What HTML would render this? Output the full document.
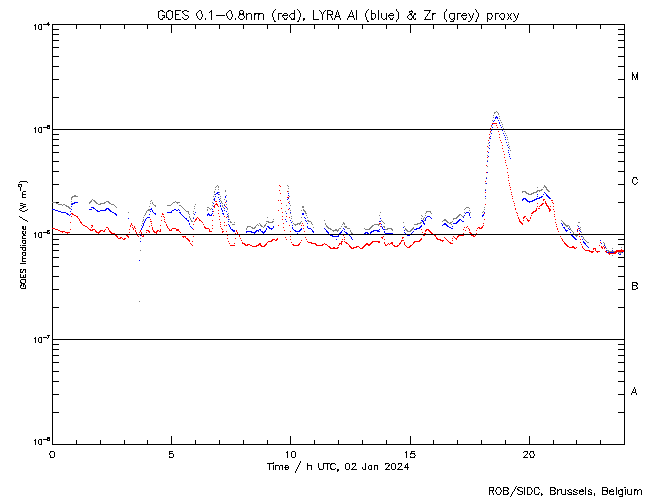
<!DOCTYPE html>
<html lang="en">
<head>
<meta charset="utf-8">
<title>GOES 0.1-0.8nm (red), LYRA Al (blue) &amp; Zr (grey) proxy</title>
<style>
html,body{margin:0;padding:0;background:#fff;}
body{width:650px;height:500px;overflow:hidden;font-family:"Liberation Sans",sans-serif;}
svg{display:block;shape-rendering:crispEdges;}
svg text{font-family:"Liberation Sans",sans-serif;fill:transparent;stroke:none;}
</style>
</head>
<body>
<svg width="650" height="500" viewBox="0 0 650 500" role="img" aria-label="GOES X-ray flux and LYRA proxies, 02 Jan 2024">
<rect width="650" height="500" fill="#ffffff"/>
<g id="series">
<path class="black" fill="#000000" d="M275 9h1v1h-1zM297 9h1v1h-1zM368 9h1v1h-1zM396 9h1v1h-1zM446 9h1v1h-1zM475 9h1v1h-1zM160 10h3v1h-3zM168 10h3v1h-3zM175 10h6v1h-6zM184 10h3v1h-3zM199 10h2v1h-2zM211 10h1v1h-1zM229 10h2v1h-2zM240 10h3v1h-3zM274 10h1v1h-1zM294 10h1v1h-1zM298 10h1v1h-1zM313 10h1v1h-1zM319 10h1v1h-1zM325 10h1v1h-1zM327 10h4v1h-4zM337 10h1v1h-1zM351 10h1v1h-1zM356 10h1v1h-1zM367 10h1v1h-1zM371 10h1v1h-1zM378 10h1v1h-1zM396 10h1v1h-1zM411 10h1v1h-1zM424 10h7v1h-7zM446 10h1v1h-1zM476 10h1v1h-1zM158 11h2v1h-2zM162 11h2v1h-2zM167 11h2v1h-2zM171 11h2v1h-2zM175 11h1v1h-1zM182 11h2v1h-2zM187 11h2v1h-2zM198 11h1v1h-1zM201 11h1v1h-1zM210 11h2v1h-2zM228 11h1v1h-1zM231 11h1v1h-1zM239 11h1v1h-1zM243 11h1v1h-1zM273 11h1v1h-1zM294 11h1v1h-1zM299 11h1v1h-1zM313 11h1v1h-1zM320 11h1v1h-1zM324 11h1v1h-1zM327 11h1v1h-1zM331 11h2v1h-2zM337 11h1v1h-1zM351 11h1v1h-1zM356 11h1v1h-1zM366 11h1v1h-1zM371 11h1v1h-1zM378 11h1v1h-1zM397 11h1v1h-1zM409 11h4v1h-4zM429 11h1v1h-1zM445 11h1v1h-1zM476 11h1v1h-1zM158 12h1v1h-1zM164 12h1v1h-1zM166 12h1v1h-1zM172 12h1v1h-1zM175 12h1v1h-1zM182 12h1v1h-1zM197 12h1v1h-1zM201 12h1v1h-1zM209 12h1v1h-1zM211 12h1v1h-1zM227 12h1v1h-1zM231 12h1v1h-1zM239 12h1v1h-1zM243 12h1v1h-1zM273 12h1v1h-1zM294 12h1v1h-1zM299 12h1v1h-1zM313 12h1v1h-1zM321 12h1v1h-1zM323 12h1v1h-1zM327 12h1v1h-1zM332 12h1v1h-1zM336 12h1v1h-1zM338 12h1v1h-1zM350 12h1v1h-1zM352 12h1v1h-1zM356 12h1v1h-1zM366 12h1v1h-1zM371 12h1v1h-1zM378 12h1v1h-1zM398 12h1v1h-1zM409 12h1v1h-1zM412 12h1v1h-1zM429 12h1v1h-1zM444 12h1v1h-1zM477 12h1v1h-1zM158 13h1v1h-1zM166 13h1v1h-1zM172 13h1v1h-1zM175 13h1v1h-1zM183 13h1v1h-1zM196 13h1v1h-1zM201 13h1v1h-1zM211 13h1v1h-1zM226 13h1v1h-1zM231 13h1v1h-1zM239 13h2v1h-2zM242 13h2v1h-2zM246 13h1v1h-1zM248 13h3v1h-3zM254 13h9v1h-9zM272 13h1v1h-1zM278 13h4v1h-4zM284 13h3v1h-3zM291 13h4v1h-4zM300 13h1v1h-1zM313 13h1v1h-1zM321 13h1v1h-1zM323 13h1v1h-1zM327 13h1v1h-1zM332 13h1v1h-1zM336 13h1v1h-1zM338 13h1v1h-1zM350 13h1v1h-1zM352 13h1v1h-1zM356 13h1v1h-1zM365 13h1v1h-1zM371 13h4v1h-4zM378 13h1v1h-1zM381 13h1v1h-1zM386 13h1v1h-1zM390 13h3v1h-3zM398 13h1v1h-1zM410 13h2v1h-2zM414 13h2v1h-2zM428 13h1v1h-1zM432 13h4v1h-4zM444 13h1v1h-1zM450 13h5v1h-5zM457 13h4v1h-4zM463 13h3v1h-3zM468 13h1v1h-1zM473 13h1v1h-1zM478 13h1v1h-1zM487 13h5v1h-5zM495 13h4v1h-4zM501 13h3v1h-3zM507 13h1v1h-1zM511 13h1v1h-1zM513 13h1v1h-1zM518 13h1v1h-1zM158 14h1v1h-1zM166 14h1v1h-1zM172 14h1v1h-1zM175 14h4v1h-4zM184 14h1v1h-1zM196 14h1v1h-1zM202 14h1v1h-1zM211 14h1v1h-1zM226 14h1v1h-1zM232 14h1v1h-1zM239 14h5v1h-5zM246 14h2v1h-2zM251 14h1v1h-1zM254 14h2v1h-2zM258 14h2v1h-2zM263 14h1v1h-1zM272 14h1v1h-1zM278 14h1v1h-1zM283 14h1v1h-1zM287 14h1v1h-1zM290 14h1v1h-1zM294 14h1v1h-1zM300 14h1v1h-1zM313 14h1v1h-1zM322 14h1v1h-1zM327 14h6v1h-6zM336 14h1v1h-1zM338 14h1v1h-1zM349 14h1v1h-1zM352 14h1v1h-1zM356 14h1v1h-1zM365 14h1v1h-1zM371 14h1v1h-1zM375 14h1v1h-1zM378 14h1v1h-1zM381 14h1v1h-1zM386 14h1v1h-1zM389 14h1v1h-1zM393 14h1v1h-1zM398 14h1v1h-1zM409 14h3v1h-3zM414 14h2v1h-2zM427 14h1v1h-1zM432 14h2v1h-2zM444 14h1v1h-1zM449 14h1v1h-1zM454 14h1v1h-1zM457 14h1v1h-1zM462 14h1v1h-1zM466 14h1v1h-1zM469 14h1v1h-1zM473 14h1v1h-1zM478 14h1v1h-1zM487 14h1v1h-1zM491 14h1v1h-1zM495 14h1v1h-1zM500 14h1v1h-1zM504 14h1v1h-1zM508 14h1v1h-1zM510 14h1v1h-1zM514 14h1v1h-1zM518 14h1v1h-1zM158 15h1v1h-1zM162 15h3v1h-3zM166 15h1v1h-1zM172 15h1v1h-1zM175 15h1v1h-1zM185 15h3v1h-3zM196 15h1v1h-1zM202 15h1v1h-1zM211 15h1v1h-1zM216 15h9v1h-9zM226 15h1v1h-1zM232 15h1v1h-1zM239 15h1v1h-1zM243 15h1v1h-1zM246 15h1v1h-1zM251 15h1v1h-1zM254 15h1v1h-1zM258 15h1v1h-1zM263 15h1v1h-1zM272 15h1v1h-1zM278 15h1v1h-1zM282 15h6v1h-6zM289 15h1v1h-1zM294 15h1v1h-1zM300 15h1v1h-1zM313 15h1v1h-1zM322 15h1v1h-1zM327 15h1v1h-1zM330 15h1v1h-1zM335 15h1v1h-1zM339 15h1v1h-1zM349 15h1v1h-1zM353 15h1v1h-1zM356 15h1v1h-1zM365 15h1v1h-1zM371 15h1v1h-1zM375 15h1v1h-1zM378 15h1v1h-1zM381 15h1v1h-1zM386 15h1v1h-1zM388 15h6v1h-6zM398 15h1v1h-1zM408 15h1v1h-1zM411 15h1v1h-1zM413 15h1v1h-1zM427 15h1v1h-1zM432 15h1v1h-1zM444 15h1v1h-1zM449 15h1v1h-1zM454 15h1v1h-1zM457 15h1v1h-1zM461 15h6v1h-6zM469 15h1v1h-1zM472 15h1v1h-1zM478 15h1v1h-1zM487 15h1v1h-1zM492 15h1v1h-1zM495 15h1v1h-1zM499 15h1v1h-1zM504 15h1v1h-1zM508 15h1v1h-1zM510 15h1v1h-1zM514 15h1v1h-1zM517 15h1v1h-1zM158 16h1v1h-1zM164 16h1v1h-1zM166 16h1v1h-1zM172 16h1v1h-1zM175 16h1v1h-1zM188 16h1v1h-1zM197 16h1v1h-1zM202 16h1v1h-1zM211 16h1v1h-1zM227 16h1v1h-1zM232 16h1v1h-1zM238 16h1v1h-1zM244 16h1v1h-1zM246 16h1v1h-1zM251 16h1v1h-1zM254 16h1v1h-1zM258 16h1v1h-1zM263 16h1v1h-1zM272 16h1v1h-1zM278 16h1v1h-1zM282 16h1v1h-1zM289 16h1v1h-1zM294 16h1v1h-1zM300 16h1v1h-1zM313 16h1v1h-1zM322 16h1v1h-1zM327 16h1v1h-1zM331 16h1v1h-1zM335 16h5v1h-5zM348 16h6v1h-6zM356 16h1v1h-1zM365 16h1v1h-1zM371 16h1v1h-1zM375 16h1v1h-1zM378 16h1v1h-1zM381 16h1v1h-1zM386 16h1v1h-1zM388 16h1v1h-1zM398 16h1v1h-1zM407 16h1v1h-1zM412 16h2v1h-2zM426 16h1v1h-1zM432 16h1v1h-1zM444 16h1v1h-1zM449 16h1v1h-1zM454 16h1v1h-1zM457 16h1v1h-1zM461 16h1v1h-1zM470 16h1v1h-1zM472 16h1v1h-1zM478 16h1v1h-1zM487 16h1v1h-1zM492 16h1v1h-1zM495 16h1v1h-1zM499 16h1v1h-1zM504 16h1v1h-1zM509 16h1v1h-1zM515 16h1v1h-1zM517 16h1v1h-1zM158 17h1v1h-1zM163 17h2v1h-2zM166 17h2v1h-2zM172 17h1v1h-1zM175 17h1v1h-1zM182 17h1v1h-1zM188 17h1v1h-1zM197 17h1v1h-1zM201 17h1v1h-1zM211 17h1v1h-1zM227 17h1v1h-1zM231 17h1v1h-1zM238 17h1v1h-1zM244 17h1v1h-1zM246 17h1v1h-1zM251 17h1v1h-1zM254 17h1v1h-1zM258 17h1v1h-1zM263 17h1v1h-1zM273 17h1v1h-1zM278 17h1v1h-1zM283 17h1v1h-1zM287 17h1v1h-1zM290 17h1v1h-1zM294 17h1v1h-1zM299 17h1v1h-1zM313 17h1v1h-1zM322 17h1v1h-1zM327 17h1v1h-1zM331 17h1v1h-1zM335 17h1v1h-1zM339 17h1v1h-1zM348 17h1v1h-1zM353 17h1v1h-1zM356 17h1v1h-1zM366 17h1v1h-1zM371 17h1v1h-1zM375 17h1v1h-1zM378 17h1v1h-1zM381 17h1v1h-1zM386 17h1v1h-1zM389 17h1v1h-1zM393 17h1v1h-1zM398 17h1v1h-1zM407 17h1v1h-1zM412 17h2v1h-2zM425 17h1v1h-1zM432 17h1v1h-1zM444 17h1v1h-1zM449 17h1v1h-1zM454 17h1v1h-1zM457 17h1v1h-1zM462 17h1v1h-1zM466 17h1v1h-1zM470 17h1v1h-1zM472 17h1v1h-1zM477 17h1v1h-1zM487 17h1v1h-1zM491 17h1v1h-1zM495 17h1v1h-1zM500 17h1v1h-1zM504 17h1v1h-1zM508 17h1v1h-1zM510 17h1v1h-1zM515 17h1v1h-1zM517 17h1v1h-1zM159 18h1v1h-1zM162 18h1v1h-1zM168 18h1v1h-1zM171 18h1v1h-1zM175 18h1v1h-1zM183 18h1v1h-1zM187 18h1v1h-1zM198 18h1v1h-1zM201 18h1v1h-1zM205 18h1v1h-1zM211 18h1v1h-1zM228 18h1v1h-1zM231 18h1v1h-1zM235 18h1v1h-1zM239 18h1v1h-1zM243 18h1v1h-1zM246 18h1v1h-1zM251 18h1v1h-1zM254 18h1v1h-1zM258 18h1v1h-1zM263 18h1v1h-1zM273 18h1v1h-1zM278 18h1v1h-1zM284 18h1v1h-1zM286 18h1v1h-1zM291 18h1v1h-1zM293 18h2v1h-2zM299 18h1v1h-1zM303 18h2v1h-2zM313 18h1v1h-1zM322 18h1v1h-1zM327 18h1v1h-1zM332 18h1v1h-1zM334 18h1v1h-1zM340 18h1v1h-1zM347 18h1v1h-1zM354 18h1v1h-1zM356 18h1v1h-1zM366 18h1v1h-1zM371 18h2v1h-2zM374 18h1v1h-1zM378 18h1v1h-1zM382 18h1v1h-1zM385 18h2v1h-2zM390 18h1v1h-1zM392 18h1v1h-1zM398 18h1v1h-1zM408 18h1v1h-1zM411 18h1v1h-1zM413 18h1v1h-1zM415 18h1v1h-1zM425 18h1v1h-1zM432 18h1v1h-1zM444 18h1v1h-1zM450 18h1v1h-1zM453 18h2v1h-2zM457 18h1v1h-1zM463 18h1v1h-1zM465 18h1v1h-1zM471 18h1v1h-1zM477 18h1v1h-1zM487 18h2v1h-2zM491 18h1v1h-1zM495 18h1v1h-1zM501 18h1v1h-1zM503 18h1v1h-1zM508 18h1v1h-1zM510 18h1v1h-1zM516 18h1v1h-1zM160 19h3v1h-3zM168 19h3v1h-3zM175 19h6v1h-6zM184 19h3v1h-3zM199 19h2v1h-2zM205 19h1v1h-1zM211 19h1v1h-1zM229 19h2v1h-2zM235 19h1v1h-1zM240 19h3v1h-3zM246 19h1v1h-1zM251 19h1v1h-1zM254 19h1v1h-1zM258 19h1v1h-1zM263 19h1v1h-1zM273 19h1v1h-1zM278 19h1v1h-1zM284 19h3v1h-3zM291 19h4v1h-4zM299 19h1v1h-1zM303 19h2v1h-2zM313 19h6v1h-6zM322 19h1v1h-1zM327 19h1v1h-1zM332 19h1v1h-1zM334 19h1v1h-1zM340 19h1v1h-1zM347 19h1v1h-1zM354 19h1v1h-1zM356 19h1v1h-1zM366 19h1v1h-1zM371 19h3v1h-3zM378 19h1v1h-1zM383 19h2v1h-2zM386 19h1v1h-1zM390 19h3v1h-3zM397 19h1v1h-1zM409 19h3v1h-3zM414 19h2v1h-2zM424 19h7v1h-7zM432 19h1v1h-1zM445 19h1v1h-1zM451 19h2v1h-2zM454 19h1v1h-1zM457 19h1v1h-1zM463 19h3v1h-3zM471 19h1v1h-1zM476 19h1v1h-1zM487 19h1v1h-1zM489 19h2v1h-2zM495 19h1v1h-1zM501 19h3v1h-3zM507 19h1v1h-1zM511 19h1v1h-1zM516 19h1v1h-1zM274 20h1v1h-1zM298 20h1v1h-1zM303 20h1v1h-1zM367 20h1v1h-1zM396 20h1v1h-1zM446 20h1v1h-1zM453 20h1v1h-1zM470 20h1v1h-1zM476 20h1v1h-1zM487 20h1v1h-1zM515 20h1v1h-1zM274 21h2v1h-2zM297 21h2v1h-2zM367 21h2v1h-2zM396 21h1v1h-1zM446 21h1v1h-1zM450 21h4v1h-4zM468 21h2v1h-2zM475 21h2v1h-2zM487 21h1v1h-1zM513 21h2v1h-2zM48 22h1v1h-1zM47 23h2v1h-2zM35 24h1v1h-1zM39 24h3v1h-3zM43 24h7v1h-7zM52 24h573v1h-573zM34 25h2v1h-2zM38 25h1v1h-1zM41 25h1v1h-1zM48 25h1v1h-1zM52 25h1v1h-1zM76 25h1v1h-1zM100 25h1v1h-1zM124 25h1v1h-1zM147 25h1v1h-1zM171 25h1v1h-1zM195 25h1v1h-1zM219 25h1v1h-1zM243 25h1v1h-1zM267 25h1v1h-1zM290 25h1v1h-1zM314 25h1v1h-1zM338 25h1v1h-1zM362 25h1v1h-1zM386 25h1v1h-1zM410 25h1v1h-1zM433 25h1v1h-1zM457 25h1v1h-1zM481 25h1v1h-1zM505 25h1v1h-1zM529 25h1v1h-1zM553 25h1v1h-1zM576 25h1v1h-1zM600 25h1v1h-1zM624 25h1v1h-1zM35 26h1v1h-1zM38 26h1v1h-1zM41 26h1v1h-1zM52 26h1v1h-1zM76 26h1v1h-1zM100 26h1v1h-1zM124 26h1v1h-1zM147 26h1v1h-1zM171 26h1v1h-1zM195 26h1v1h-1zM219 26h1v1h-1zM243 26h1v1h-1zM267 26h1v1h-1zM290 26h1v1h-1zM314 26h1v1h-1zM338 26h1v1h-1zM362 26h1v1h-1zM386 26h1v1h-1zM410 26h1v1h-1zM433 26h1v1h-1zM457 26h1v1h-1zM481 26h1v1h-1zM505 26h1v1h-1zM529 26h1v1h-1zM553 26h1v1h-1zM576 26h1v1h-1zM600 26h1v1h-1zM624 26h1v1h-1zM35 27h1v1h-1zM38 27h1v1h-1zM41 27h1v1h-1zM52 27h1v1h-1zM76 27h1v1h-1zM100 27h1v1h-1zM124 27h1v1h-1zM147 27h1v1h-1zM171 27h1v1h-1zM195 27h1v1h-1zM219 27h1v1h-1zM243 27h1v1h-1zM267 27h1v1h-1zM290 27h1v1h-1zM314 27h1v1h-1zM338 27h1v1h-1zM362 27h1v1h-1zM386 27h1v1h-1zM410 27h1v1h-1zM433 27h1v1h-1zM457 27h1v1h-1zM481 27h1v1h-1zM505 27h1v1h-1zM529 27h1v1h-1zM553 27h1v1h-1zM576 27h1v1h-1zM600 27h1v1h-1zM624 27h1v1h-1zM35 28h1v1h-1zM38 28h1v1h-1zM41 28h1v1h-1zM52 28h1v1h-1zM76 28h1v1h-1zM100 28h1v1h-1zM124 28h1v1h-1zM147 28h1v1h-1zM171 28h1v1h-1zM195 28h1v1h-1zM219 28h1v1h-1zM243 28h1v1h-1zM267 28h1v1h-1zM290 28h1v1h-1zM314 28h1v1h-1zM338 28h1v1h-1zM362 28h1v1h-1zM386 28h1v1h-1zM410 28h1v1h-1zM433 28h1v1h-1zM457 28h1v1h-1zM481 28h1v1h-1zM505 28h1v1h-1zM529 28h1v1h-1zM553 28h1v1h-1zM576 28h1v1h-1zM600 28h1v1h-1zM624 28h1v1h-1zM35 29h1v1h-1zM39 29h3v1h-3zM52 29h7v1h-7zM171 29h1v1h-1zM290 29h1v1h-1zM410 29h1v1h-1zM529 29h1v1h-1zM618 29h7v1h-7zM52 30h1v1h-1zM171 30h1v1h-1zM290 30h1v1h-1zM410 30h1v1h-1zM529 30h1v1h-1zM624 30h1v1h-1zM52 31h1v1h-1zM171 31h1v1h-1zM290 31h1v1h-1zM410 31h1v1h-1zM529 31h1v1h-1zM624 31h1v1h-1zM52 32h1v1h-1zM171 32h1v1h-1zM290 32h1v1h-1zM410 32h1v1h-1zM529 32h1v1h-1zM624 32h1v1h-1zM52 33h1v1h-1zM624 33h1v1h-1zM52 34h7v1h-7zM618 34h7v1h-7zM52 35h1v1h-1zM624 35h1v1h-1zM52 36h1v1h-1zM624 36h1v1h-1zM52 37h1v1h-1zM624 37h1v1h-1zM52 38h1v1h-1zM624 38h1v1h-1zM52 39h1v1h-1zM624 39h1v1h-1zM52 40h7v1h-7zM618 40h7v1h-7zM52 41h1v1h-1zM624 41h1v1h-1zM52 42h1v1h-1zM624 42h1v1h-1zM52 43h1v1h-1zM624 43h1v1h-1zM52 44h1v1h-1zM624 44h1v1h-1zM52 45h1v1h-1zM624 45h1v1h-1zM52 46h1v1h-1zM624 46h1v1h-1zM52 47h7v1h-7zM618 47h7v1h-7zM52 48h1v1h-1zM624 48h1v1h-1zM52 49h1v1h-1zM624 49h1v1h-1zM52 50h1v1h-1zM624 50h1v1h-1zM52 51h1v1h-1zM624 51h1v1h-1zM52 52h1v1h-1zM624 52h1v1h-1zM52 53h1v1h-1zM624 53h1v1h-1zM52 54h1v1h-1zM624 54h1v1h-1zM52 55h1v1h-1zM624 55h1v1h-1zM52 56h7v1h-7zM618 56h7v1h-7zM52 57h1v1h-1zM624 57h1v1h-1zM52 58h1v1h-1zM624 58h1v1h-1zM52 59h1v1h-1zM624 59h1v1h-1zM52 60h1v1h-1zM624 60h1v1h-1zM52 61h1v1h-1zM624 61h1v1h-1zM52 62h1v1h-1zM624 62h1v1h-1zM52 63h1v1h-1zM624 63h1v1h-1zM52 64h1v1h-1zM624 64h1v1h-1zM52 65h1v1h-1zM624 65h1v1h-1zM52 66h7v1h-7zM618 66h7v1h-7zM52 67h1v1h-1zM624 67h1v1h-1zM52 68h1v1h-1zM624 68h1v1h-1zM52 69h1v1h-1zM624 69h1v1h-1zM52 70h1v1h-1zM624 70h1v1h-1zM52 71h1v1h-1zM624 71h1v1h-1zM52 72h1v1h-1zM624 72h1v1h-1zM632 72h1v1h-1zM637 72h1v1h-1zM52 73h1v1h-1zM624 73h1v1h-1zM632 73h1v1h-1zM637 73h1v1h-1zM52 74h1v1h-1zM624 74h1v1h-1zM632 74h2v1h-2zM636 74h2v1h-2zM52 75h1v1h-1zM624 75h1v1h-1zM632 75h2v1h-2zM636 75h2v1h-2zM52 76h1v1h-1zM624 76h1v1h-1zM632 76h1v1h-1zM634 76h1v1h-1zM636 76h2v1h-2zM52 77h1v1h-1zM624 77h1v1h-1zM632 77h1v1h-1zM634 77h1v1h-1zM636 77h2v1h-2zM52 78h1v1h-1zM624 78h1v1h-1zM632 78h1v1h-1zM635 78h1v1h-1zM637 78h1v1h-1zM52 79h7v1h-7zM618 79h7v1h-7zM632 79h1v1h-1zM635 79h1v1h-1zM637 79h1v1h-1zM52 80h1v1h-1zM624 80h1v1h-1zM52 81h1v1h-1zM624 81h1v1h-1zM52 82h1v1h-1zM624 82h1v1h-1zM52 83h1v1h-1zM624 83h1v1h-1zM52 84h1v1h-1zM624 84h1v1h-1zM52 85h1v1h-1zM624 85h1v1h-1zM52 86h1v1h-1zM624 86h1v1h-1zM52 87h1v1h-1zM624 87h1v1h-1zM52 88h1v1h-1zM624 88h1v1h-1zM52 89h1v1h-1zM624 89h1v1h-1zM52 90h1v1h-1zM624 90h1v1h-1zM52 91h1v1h-1zM624 91h1v1h-1zM52 92h1v1h-1zM624 92h1v1h-1zM52 93h1v1h-1zM624 93h1v1h-1zM52 94h1v1h-1zM624 94h1v1h-1zM52 95h1v1h-1zM624 95h1v1h-1zM52 96h1v1h-1zM624 96h1v1h-1zM52 97h7v1h-7zM618 97h7v1h-7zM52 98h1v1h-1zM624 98h1v1h-1zM52 99h1v1h-1zM624 99h1v1h-1zM52 100h1v1h-1zM624 100h1v1h-1zM52 101h1v1h-1zM624 101h1v1h-1zM52 102h1v1h-1zM624 102h1v1h-1zM52 103h1v1h-1zM624 103h1v1h-1zM52 104h1v1h-1zM624 104h1v1h-1zM52 105h1v1h-1zM624 105h1v1h-1zM52 106h1v1h-1zM624 106h1v1h-1zM52 107h1v1h-1zM624 107h1v1h-1zM52 108h1v1h-1zM624 108h1v1h-1zM52 109h1v1h-1zM624 109h1v1h-1zM52 110h1v1h-1zM624 110h1v1h-1zM52 111h1v1h-1zM624 111h1v1h-1zM52 112h1v1h-1zM624 112h1v1h-1zM52 113h1v1h-1zM624 113h1v1h-1zM52 114h1v1h-1zM624 114h1v1h-1zM52 115h1v1h-1zM624 115h1v1h-1zM52 116h1v1h-1zM624 116h1v1h-1zM52 117h1v1h-1zM624 117h1v1h-1zM52 118h1v1h-1zM624 118h1v1h-1zM52 119h1v1h-1zM624 119h1v1h-1zM52 120h1v1h-1zM624 120h1v1h-1zM52 121h1v1h-1zM624 121h1v1h-1zM52 122h1v1h-1zM624 122h1v1h-1zM52 123h1v1h-1zM624 123h1v1h-1zM52 124h1v1h-1zM624 124h1v1h-1zM47 125h3v1h-3zM52 125h1v1h-1zM624 125h1v1h-1zM47 126h3v1h-3zM52 126h1v1h-1zM624 126h1v1h-1zM35 127h1v1h-1zM39 127h3v1h-3zM43 127h5v1h-5zM49 127h1v1h-1zM52 127h1v1h-1zM624 127h1v1h-1zM34 128h2v1h-2zM38 128h1v1h-1zM41 128h1v1h-1zM47 128h3v1h-3zM52 128h1v1h-1zM624 128h1v1h-1zM35 129h1v1h-1zM38 129h1v1h-1zM41 129h1v1h-1zM52 129h1v1h-1zM624 129h1v1h-1zM35 130h1v1h-1zM38 130h1v1h-1zM41 130h1v1h-1zM52 130h1v1h-1zM624 130h1v1h-1zM35 131h1v1h-1zM38 131h1v1h-1zM41 131h1v1h-1zM52 131h1v1h-1zM624 131h1v1h-1zM35 132h1v1h-1zM39 132h3v1h-3zM52 132h1v1h-1zM624 132h1v1h-1zM52 133h1v1h-1zM624 133h1v1h-1zM52 134h7v1h-7zM618 134h7v1h-7zM52 135h1v1h-1zM624 135h1v1h-1zM52 136h1v1h-1zM624 136h1v1h-1zM52 137h1v1h-1zM624 137h1v1h-1zM52 138h1v1h-1zM624 138h1v1h-1zM52 139h7v1h-7zM618 139h7v1h-7zM52 140h1v1h-1zM624 140h1v1h-1zM52 141h1v1h-1zM624 141h1v1h-1zM52 142h1v1h-1zM624 142h1v1h-1zM52 143h1v1h-1zM624 143h1v1h-1zM52 144h1v1h-1zM624 144h1v1h-1zM52 145h7v1h-7zM618 145h7v1h-7zM52 146h1v1h-1zM624 146h1v1h-1zM52 147h1v1h-1zM624 147h1v1h-1zM52 148h1v1h-1zM624 148h1v1h-1zM52 149h1v1h-1zM624 149h1v1h-1zM52 150h1v1h-1zM624 150h1v1h-1zM52 151h1v1h-1zM624 151h1v1h-1zM52 152h7v1h-7zM618 152h7v1h-7zM52 153h1v1h-1zM624 153h1v1h-1zM52 154h1v1h-1zM624 154h1v1h-1zM52 155h1v1h-1zM624 155h1v1h-1zM52 156h1v1h-1zM624 156h1v1h-1zM52 157h1v1h-1zM624 157h1v1h-1zM52 158h1v1h-1zM624 158h1v1h-1zM52 159h1v1h-1zM624 159h1v1h-1zM52 160h1v1h-1zM624 160h1v1h-1zM52 161h7v1h-7zM618 161h7v1h-7zM52 162h1v1h-1zM624 162h1v1h-1zM52 163h1v1h-1zM624 163h1v1h-1zM52 164h1v1h-1zM624 164h1v1h-1zM52 165h1v1h-1zM624 165h1v1h-1zM52 166h1v1h-1zM624 166h1v1h-1zM52 167h1v1h-1zM624 167h1v1h-1zM52 168h1v1h-1zM624 168h1v1h-1zM52 169h1v1h-1zM624 169h1v1h-1zM52 170h1v1h-1zM624 170h1v1h-1zM52 171h7v1h-7zM618 171h7v1h-7zM52 172h1v1h-1zM624 172h1v1h-1zM52 173h1v1h-1zM624 173h1v1h-1zM52 174h1v1h-1zM624 174h1v1h-1zM52 175h1v1h-1zM624 175h1v1h-1zM52 176h1v1h-1zM624 176h1v1h-1zM52 177h1v1h-1zM624 177h1v1h-1zM633 177h4v1h-4zM52 178h1v1h-1zM624 178h1v1h-1zM633 178h1v1h-1zM636 178h1v1h-1zM52 179h1v1h-1zM624 179h1v1h-1zM632 179h1v1h-1zM637 179h1v1h-1zM52 180h1v1h-1zM624 180h1v1h-1zM632 180h1v1h-1zM20 181h7v1h-7zM52 181h1v1h-1zM624 181h1v1h-1zM632 181h1v1h-1zM19 182h1v1h-1zM27 182h1v1h-1zM52 182h1v1h-1zM624 182h1v1h-1zM632 182h1v1h-1zM637 182h1v1h-1zM52 183h1v1h-1zM624 183h1v1h-1zM633 183h1v1h-1zM636 183h1v1h-1zM18 184h4v1h-4zM52 184h7v1h-7zM618 184h7v1h-7zM634 184h2v1h-2zM18 185h1v1h-1zM21 185h1v1h-1zM52 185h1v1h-1zM624 185h1v1h-1zM18 186h2v1h-2zM21 186h1v1h-1zM52 186h1v1h-1zM624 186h1v1h-1zM20 187h1v1h-1zM52 187h1v1h-1zM624 187h1v1h-1zM20 188h1v1h-1zM52 188h1v1h-1zM624 188h1v1h-1zM20 189h1v1h-1zM52 189h1v1h-1zM624 189h1v1h-1zM20 190h1v1h-1zM52 190h1v1h-1zM624 190h1v1h-1zM23 191h3v1h-3zM52 191h1v1h-1zM624 191h1v1h-1zM22 192h1v1h-1zM52 192h1v1h-1zM624 192h1v1h-1zM22 193h1v1h-1zM52 193h1v1h-1zM624 193h1v1h-1zM22 194h4v1h-4zM52 194h1v1h-1zM624 194h1v1h-1zM22 195h1v1h-1zM52 195h1v1h-1zM624 195h1v1h-1zM22 196h1v1h-1zM52 196h1v1h-1zM624 196h1v1h-1zM22 197h4v1h-4zM52 197h1v1h-1zM624 197h1v1h-1zM52 198h1v1h-1zM624 198h1v1h-1zM52 199h1v1h-1zM624 199h1v1h-1zM52 200h1v1h-1zM624 200h1v1h-1zM52 201h1v1h-1zM624 201h1v1h-1zM52 202h7v1h-7zM618 202h7v1h-7zM20 203h3v1h-3zM52 203h1v1h-1zM624 203h1v1h-1zM23 204h3v1h-3zM52 204h1v1h-1zM624 204h1v1h-1zM20 205h3v1h-3zM52 205h1v1h-1zM624 205h1v1h-1zM23 206h3v1h-3zM52 206h1v1h-1zM624 206h1v1h-1zM22 207h2v1h-2zM52 207h1v1h-1zM624 207h1v1h-1zM20 208h2v1h-2zM52 208h1v1h-1zM624 208h1v1h-1zM19 209h1v1h-1zM27 209h1v1h-1zM52 209h1v1h-1zM624 209h1v1h-1zM20 210h2v1h-2zM25 210h2v1h-2zM52 210h1v1h-1zM624 210h1v1h-1zM22 211h3v1h-3zM52 211h1v1h-1zM624 211h1v1h-1zM52 212h1v1h-1zM624 212h1v1h-1zM52 213h1v1h-1zM624 213h1v1h-1zM52 214h1v1h-1zM624 214h1v1h-1zM52 215h1v1h-1zM624 215h1v1h-1zM19 216h1v1h-1zM52 216h1v1h-1zM624 216h1v1h-1zM20 217h2v1h-2zM52 217h1v1h-1zM624 217h1v1h-1zM22 218h1v1h-1zM52 218h1v1h-1zM624 218h1v1h-1zM23 219h2v1h-2zM52 219h1v1h-1zM624 219h1v1h-1zM25 220h2v1h-2zM52 220h1v1h-1zM624 220h1v1h-1zM27 221h1v1h-1zM52 221h1v1h-1zM624 221h1v1h-1zM52 222h1v1h-1zM624 222h1v1h-1zM52 223h1v1h-1zM624 223h1v1h-1zM52 224h1v1h-1zM624 224h1v1h-1zM52 225h1v1h-1zM624 225h1v1h-1zM22 226h2v1h-2zM25 226h1v1h-1zM52 226h1v1h-1zM624 226h1v1h-1zM22 227h2v1h-2zM25 227h1v1h-1zM52 227h1v1h-1zM624 227h1v1h-1zM22 228h2v1h-2zM25 228h1v1h-1zM52 228h1v1h-1zM624 228h1v1h-1zM23 229h3v1h-3zM52 229h1v1h-1zM624 229h1v1h-1zM47 230h3v1h-3zM52 230h1v1h-1zM624 230h1v1h-1zM22 231h2v1h-2zM25 231h1v1h-1zM47 231h2v1h-2zM52 231h1v1h-1zM624 231h1v1h-1zM22 232h1v1h-1zM25 232h1v1h-1zM35 232h1v1h-1zM39 232h3v1h-3zM43 232h5v1h-5zM49 232h1v1h-1zM52 232h1v1h-1zM624 232h1v1h-1zM22 233h2v1h-2zM25 233h1v1h-1zM34 233h2v1h-2zM38 233h1v1h-1zM41 233h1v1h-1zM47 233h3v1h-3zM52 233h1v1h-1zM624 233h1v1h-1zM23 234h2v1h-2zM35 234h1v1h-1zM38 234h1v1h-1zM41 234h1v1h-1zM52 234h1v1h-1zM624 234h1v1h-1zM23 235h3v1h-3zM35 235h1v1h-1zM38 235h1v1h-1zM41 235h1v1h-1zM52 235h1v1h-1zM624 235h1v1h-1zM22 236h1v1h-1zM35 236h1v1h-1zM38 236h1v1h-1zM41 236h1v1h-1zM52 236h1v1h-1zM624 236h1v1h-1zM22 237h1v1h-1zM35 237h1v1h-1zM39 237h3v1h-3zM52 237h1v1h-1zM624 237h1v1h-1zM22 238h4v1h-4zM52 238h1v1h-1zM624 238h1v1h-1zM52 239h7v1h-7zM618 239h7v1h-7zM22 240h4v1h-4zM52 240h1v1h-1zM624 240h1v1h-1zM22 241h1v1h-1zM25 241h1v1h-1zM52 241h1v1h-1zM624 241h1v1h-1zM22 242h1v1h-1zM25 242h1v1h-1zM52 242h1v1h-1zM624 242h1v1h-1zM23 243h3v1h-3zM52 243h1v1h-1zM624 243h1v1h-1zM52 244h7v1h-7zM618 244h7v1h-7zM20 245h1v1h-1zM22 245h4v1h-4zM52 245h1v1h-1zM624 245h1v1h-1zM52 246h1v1h-1zM624 246h1v1h-1zM20 247h6v1h-6zM52 247h1v1h-1zM624 247h1v1h-1zM22 248h1v1h-1zM25 248h1v1h-1zM52 248h1v1h-1zM624 248h1v1h-1zM22 249h1v1h-1zM25 249h1v1h-1zM52 249h1v1h-1zM624 249h1v1h-1zM23 250h3v1h-3zM52 250h7v1h-7zM618 250h7v1h-7zM52 251h1v1h-1zM624 251h1v1h-1zM22 252h4v1h-4zM52 252h1v1h-1zM624 252h1v1h-1zM22 253h1v1h-1zM25 253h1v1h-1zM52 253h1v1h-1zM624 253h1v1h-1zM22 254h1v1h-1zM25 254h1v1h-1zM52 254h1v1h-1zM624 254h1v1h-1zM23 255h3v1h-3zM52 255h1v1h-1zM624 255h1v1h-1zM22 256h1v1h-1zM52 256h1v1h-1zM624 256h1v1h-1zM22 257h1v1h-1zM52 257h7v1h-7zM618 257h7v1h-7zM22 258h4v1h-4zM52 258h1v1h-1zM624 258h1v1h-1zM22 259h1v1h-1zM52 259h1v1h-1zM624 259h1v1h-1zM22 260h1v1h-1zM52 260h1v1h-1zM624 260h1v1h-1zM22 261h4v1h-4zM52 261h1v1h-1zM624 261h1v1h-1zM52 262h1v1h-1zM624 262h1v1h-1zM20 263h6v1h-6zM52 263h1v1h-1zM624 263h1v1h-1zM52 264h1v1h-1zM624 264h1v1h-1zM52 265h1v1h-1zM624 265h1v1h-1zM52 266h7v1h-7zM618 266h7v1h-7zM52 267h1v1h-1zM624 267h1v1h-1zM52 268h1v1h-1zM624 268h1v1h-1zM20 269h2v1h-2zM23 269h3v1h-3zM52 269h1v1h-1zM624 269h1v1h-1zM20 270h1v1h-1zM23 270h1v1h-1zM25 270h1v1h-1zM52 270h1v1h-1zM624 270h1v1h-1zM20 271h1v1h-1zM22 271h1v1h-1zM25 271h1v1h-1zM52 271h1v1h-1zM624 271h1v1h-1zM20 272h3v1h-3zM25 272h1v1h-1zM52 272h1v1h-1zM624 272h1v1h-1zM52 273h1v1h-1zM624 273h1v1h-1zM20 274h1v1h-1zM25 274h1v1h-1zM52 274h1v1h-1zM624 274h1v1h-1zM20 275h1v1h-1zM23 275h1v1h-1zM25 275h1v1h-1zM52 275h1v1h-1zM624 275h1v1h-1zM20 276h1v1h-1zM23 276h1v1h-1zM25 276h1v1h-1zM52 276h7v1h-7zM618 276h7v1h-7zM20 277h6v1h-6zM52 277h1v1h-1zM624 277h1v1h-1zM52 278h1v1h-1zM624 278h1v1h-1zM21 279h5v1h-5zM52 279h1v1h-1zM624 279h1v1h-1zM20 280h1v1h-1zM25 280h1v1h-1zM52 280h1v1h-1zM624 280h1v1h-1zM20 281h1v1h-1zM25 281h1v1h-1zM52 281h1v1h-1zM624 281h1v1h-1zM20 282h2v1h-2zM25 282h1v1h-1zM52 282h1v1h-1zM624 282h1v1h-1zM632 282h5v1h-5zM21 283h4v1h-4zM52 283h1v1h-1zM624 283h1v1h-1zM632 283h1v1h-1zM636 283h2v1h-2zM21 284h1v1h-1zM23 284h2v1h-2zM52 284h1v1h-1zM624 284h1v1h-1zM632 284h1v1h-1zM637 284h1v1h-1zM20 285h2v1h-2zM23 285h1v1h-1zM25 285h1v1h-1zM52 285h1v1h-1zM624 285h1v1h-1zM632 285h5v1h-5zM20 286h1v1h-1zM23 286h1v1h-1zM25 286h1v1h-1zM52 286h1v1h-1zM624 286h1v1h-1zM632 286h1v1h-1zM636 286h1v1h-1zM20 287h1v1h-1zM25 287h1v1h-1zM52 287h1v1h-1zM624 287h1v1h-1zM632 287h1v1h-1zM637 287h1v1h-1zM21 288h5v1h-5zM52 288h1v1h-1zM624 288h1v1h-1zM632 288h1v1h-1zM636 288h2v1h-2zM52 289h7v1h-7zM618 289h7v1h-7zM632 289h4v1h-4zM52 290h1v1h-1zM624 290h1v1h-1zM52 291h1v1h-1zM624 291h1v1h-1zM52 292h1v1h-1zM624 292h1v1h-1zM52 293h1v1h-1zM624 293h1v1h-1zM52 294h1v1h-1zM624 294h1v1h-1zM52 295h1v1h-1zM624 295h1v1h-1zM52 296h1v1h-1zM624 296h1v1h-1zM52 297h1v1h-1zM624 297h1v1h-1zM52 298h1v1h-1zM624 298h1v1h-1zM52 299h1v1h-1zM624 299h1v1h-1zM52 300h1v1h-1zM624 300h1v1h-1zM52 301h1v1h-1zM624 301h1v1h-1zM52 302h1v1h-1zM624 302h1v1h-1zM52 303h1v1h-1zM624 303h1v1h-1zM52 304h1v1h-1zM624 304h1v1h-1zM52 305h1v1h-1zM624 305h1v1h-1zM52 306h1v1h-1zM624 306h1v1h-1zM52 307h7v1h-7zM618 307h7v1h-7zM52 308h1v1h-1zM624 308h1v1h-1zM52 309h1v1h-1zM624 309h1v1h-1zM52 310h1v1h-1zM624 310h1v1h-1zM52 311h1v1h-1zM624 311h1v1h-1zM52 312h1v1h-1zM624 312h1v1h-1zM52 313h1v1h-1zM624 313h1v1h-1zM52 314h1v1h-1zM624 314h1v1h-1zM52 315h1v1h-1zM624 315h1v1h-1zM52 316h1v1h-1zM624 316h1v1h-1zM52 317h1v1h-1zM624 317h1v1h-1zM52 318h1v1h-1zM624 318h1v1h-1zM52 319h1v1h-1zM624 319h1v1h-1zM52 320h1v1h-1zM624 320h1v1h-1zM52 321h1v1h-1zM624 321h1v1h-1zM52 322h1v1h-1zM624 322h1v1h-1zM52 323h1v1h-1zM624 323h1v1h-1zM52 324h1v1h-1zM624 324h1v1h-1zM52 325h1v1h-1zM624 325h1v1h-1zM52 326h1v1h-1zM624 326h1v1h-1zM52 327h1v1h-1zM624 327h1v1h-1zM52 328h1v1h-1zM624 328h1v1h-1zM52 329h1v1h-1zM624 329h1v1h-1zM52 330h1v1h-1zM624 330h1v1h-1zM52 331h1v1h-1zM624 331h1v1h-1zM52 332h1v1h-1zM624 332h1v1h-1zM52 333h1v1h-1zM624 333h1v1h-1zM52 334h1v1h-1zM624 334h1v1h-1zM47 335h3v1h-3zM52 335h1v1h-1zM624 335h1v1h-1zM48 336h1v1h-1zM52 336h1v1h-1zM624 336h1v1h-1zM35 337h1v1h-1zM39 337h3v1h-3zM43 337h4v1h-4zM48 337h1v1h-1zM52 337h1v1h-1zM624 337h1v1h-1zM34 338h2v1h-2zM38 338h1v1h-1zM41 338h1v1h-1zM47 338h1v1h-1zM52 338h1v1h-1zM624 338h1v1h-1zM35 339h1v1h-1zM38 339h1v1h-1zM41 339h1v1h-1zM52 339h1v1h-1zM624 339h1v1h-1zM35 340h1v1h-1zM38 340h1v1h-1zM41 340h1v1h-1zM52 340h1v1h-1zM624 340h1v1h-1zM35 341h1v1h-1zM38 341h1v1h-1zM41 341h1v1h-1zM52 341h1v1h-1zM624 341h1v1h-1zM35 342h1v1h-1zM39 342h3v1h-3zM52 342h1v1h-1zM624 342h1v1h-1zM52 343h1v1h-1zM624 343h1v1h-1zM52 344h7v1h-7zM618 344h7v1h-7zM52 345h1v1h-1zM624 345h1v1h-1zM52 346h1v1h-1zM624 346h1v1h-1zM52 347h1v1h-1zM624 347h1v1h-1zM52 348h1v1h-1zM624 348h1v1h-1zM52 349h7v1h-7zM618 349h7v1h-7zM52 350h1v1h-1zM624 350h1v1h-1zM52 351h1v1h-1zM624 351h1v1h-1zM52 352h1v1h-1zM624 352h1v1h-1zM52 353h1v1h-1zM624 353h1v1h-1zM52 354h1v1h-1zM624 354h1v1h-1zM52 355h7v1h-7zM618 355h7v1h-7zM52 356h1v1h-1zM624 356h1v1h-1zM52 357h1v1h-1zM624 357h1v1h-1zM52 358h1v1h-1zM624 358h1v1h-1zM52 359h1v1h-1zM624 359h1v1h-1zM52 360h1v1h-1zM624 360h1v1h-1zM52 361h1v1h-1zM624 361h1v1h-1zM52 362h7v1h-7zM618 362h7v1h-7zM52 363h1v1h-1zM624 363h1v1h-1zM52 364h1v1h-1zM624 364h1v1h-1zM52 365h1v1h-1zM624 365h1v1h-1zM52 366h1v1h-1zM624 366h1v1h-1zM52 367h1v1h-1zM624 367h1v1h-1zM52 368h1v1h-1zM624 368h1v1h-1zM52 369h1v1h-1zM624 369h1v1h-1zM52 370h1v1h-1zM624 370h1v1h-1zM52 371h7v1h-7zM618 371h7v1h-7zM52 372h1v1h-1zM624 372h1v1h-1zM52 373h1v1h-1zM624 373h1v1h-1zM52 374h1v1h-1zM624 374h1v1h-1zM52 375h1v1h-1zM624 375h1v1h-1zM52 376h1v1h-1zM624 376h1v1h-1zM52 377h1v1h-1zM624 377h1v1h-1zM52 378h1v1h-1zM624 378h1v1h-1zM52 379h1v1h-1zM624 379h1v1h-1zM52 380h1v1h-1zM624 380h1v1h-1zM52 381h7v1h-7zM618 381h7v1h-7zM52 382h1v1h-1zM624 382h1v1h-1zM52 383h1v1h-1zM624 383h1v1h-1zM52 384h1v1h-1zM624 384h1v1h-1zM52 385h1v1h-1zM624 385h1v1h-1zM52 386h1v1h-1zM624 386h1v1h-1zM52 387h1v1h-1zM624 387h1v1h-1zM634 387h1v1h-1zM52 388h1v1h-1zM624 388h1v1h-1zM634 388h1v1h-1zM52 389h1v1h-1zM624 389h1v1h-1zM633 389h1v1h-1zM635 389h1v1h-1zM52 390h1v1h-1zM624 390h1v1h-1zM633 390h1v1h-1zM635 390h1v1h-1zM52 391h1v1h-1zM624 391h1v1h-1zM632 391h1v1h-1zM635 391h1v1h-1zM52 392h1v1h-1zM624 392h1v1h-1zM632 392h4v1h-4zM52 393h1v1h-1zM624 393h1v1h-1zM631 393h1v1h-1zM636 393h1v1h-1zM52 394h7v1h-7zM618 394h7v1h-7zM631 394h1v1h-1zM636 394h1v1h-1zM52 395h1v1h-1zM624 395h1v1h-1zM52 396h1v1h-1zM624 396h1v1h-1zM52 397h1v1h-1zM624 397h1v1h-1zM52 398h1v1h-1zM624 398h1v1h-1zM52 399h1v1h-1zM624 399h1v1h-1zM52 400h1v1h-1zM624 400h1v1h-1zM52 401h1v1h-1zM624 401h1v1h-1zM52 402h1v1h-1zM624 402h1v1h-1zM52 403h1v1h-1zM624 403h1v1h-1zM52 404h1v1h-1zM624 404h1v1h-1zM52 405h1v1h-1zM624 405h1v1h-1zM52 406h1v1h-1zM624 406h1v1h-1zM52 407h1v1h-1zM624 407h1v1h-1zM52 408h1v1h-1zM624 408h1v1h-1zM52 409h1v1h-1zM624 409h1v1h-1zM52 410h1v1h-1zM624 410h1v1h-1zM52 411h1v1h-1zM624 411h1v1h-1zM52 412h7v1h-7zM618 412h7v1h-7zM52 413h1v1h-1zM624 413h1v1h-1zM52 414h1v1h-1zM624 414h1v1h-1zM52 415h1v1h-1zM624 415h1v1h-1zM52 416h1v1h-1zM624 416h1v1h-1zM52 417h1v1h-1zM624 417h1v1h-1zM52 418h1v1h-1zM624 418h1v1h-1zM52 419h1v1h-1zM624 419h1v1h-1zM52 420h1v1h-1zM624 420h1v1h-1zM52 421h1v1h-1zM624 421h1v1h-1zM52 422h1v1h-1zM624 422h1v1h-1zM52 423h1v1h-1zM624 423h1v1h-1zM52 424h1v1h-1zM624 424h1v1h-1zM52 425h1v1h-1zM624 425h1v1h-1zM52 426h1v1h-1zM624 426h1v1h-1zM52 427h1v1h-1zM624 427h1v1h-1zM52 428h1v1h-1zM624 428h1v1h-1zM52 429h1v1h-1zM624 429h1v1h-1zM52 430h1v1h-1zM624 430h1v1h-1zM52 431h1v1h-1zM624 431h1v1h-1zM52 432h1v1h-1zM624 432h1v1h-1zM52 433h1v1h-1zM624 433h1v1h-1zM52 434h1v1h-1zM624 434h1v1h-1zM52 435h1v1h-1zM624 435h1v1h-1zM52 436h1v1h-1zM171 436h1v1h-1zM290 436h1v1h-1zM410 436h1v1h-1zM529 436h1v1h-1zM624 436h1v1h-1zM47 437h3v1h-3zM52 437h1v1h-1zM171 437h1v1h-1zM290 437h1v1h-1zM410 437h1v1h-1zM529 437h1v1h-1zM624 437h1v1h-1zM47 438h3v1h-3zM52 438h1v1h-1zM171 438h1v1h-1zM290 438h1v1h-1zM410 438h1v1h-1zM529 438h1v1h-1zM624 438h1v1h-1zM35 439h1v1h-1zM39 439h3v1h-3zM43 439h5v1h-5zM49 439h1v1h-1zM52 439h1v1h-1zM171 439h1v1h-1zM290 439h1v1h-1zM410 439h1v1h-1zM529 439h1v1h-1zM624 439h1v1h-1zM34 440h2v1h-2zM38 440h1v1h-1zM41 440h1v1h-1zM47 440h3v1h-3zM52 440h1v1h-1zM76 440h1v1h-1zM100 440h1v1h-1zM124 440h1v1h-1zM147 440h1v1h-1zM171 440h1v1h-1zM195 440h1v1h-1zM219 440h1v1h-1zM243 440h1v1h-1zM267 440h1v1h-1zM290 440h1v1h-1zM314 440h1v1h-1zM338 440h1v1h-1zM362 440h1v1h-1zM386 440h1v1h-1zM410 440h1v1h-1zM433 440h1v1h-1zM457 440h1v1h-1zM481 440h1v1h-1zM505 440h1v1h-1zM529 440h1v1h-1zM553 440h1v1h-1zM576 440h1v1h-1zM600 440h1v1h-1zM624 440h1v1h-1zM35 441h1v1h-1zM38 441h1v1h-1zM41 441h1v1h-1zM52 441h1v1h-1zM76 441h1v1h-1zM100 441h1v1h-1zM124 441h1v1h-1zM147 441h1v1h-1zM171 441h1v1h-1zM195 441h1v1h-1zM219 441h1v1h-1zM243 441h1v1h-1zM267 441h1v1h-1zM290 441h1v1h-1zM314 441h1v1h-1zM338 441h1v1h-1zM362 441h1v1h-1zM386 441h1v1h-1zM410 441h1v1h-1zM433 441h1v1h-1zM457 441h1v1h-1zM481 441h1v1h-1zM505 441h1v1h-1zM529 441h1v1h-1zM553 441h1v1h-1zM576 441h1v1h-1zM600 441h1v1h-1zM624 441h1v1h-1zM35 442h1v1h-1zM38 442h1v1h-1zM41 442h1v1h-1zM52 442h1v1h-1zM76 442h1v1h-1zM100 442h1v1h-1zM124 442h1v1h-1zM147 442h1v1h-1zM171 442h1v1h-1zM195 442h1v1h-1zM219 442h1v1h-1zM243 442h1v1h-1zM267 442h1v1h-1zM290 442h1v1h-1zM314 442h1v1h-1zM338 442h1v1h-1zM362 442h1v1h-1zM386 442h1v1h-1zM410 442h1v1h-1zM433 442h1v1h-1zM457 442h1v1h-1zM481 442h1v1h-1zM505 442h1v1h-1zM529 442h1v1h-1zM553 442h1v1h-1zM576 442h1v1h-1zM600 442h1v1h-1zM624 442h1v1h-1zM35 443h1v1h-1zM38 443h1v1h-1zM41 443h1v1h-1zM52 443h1v1h-1zM76 443h1v1h-1zM100 443h1v1h-1zM124 443h1v1h-1zM147 443h1v1h-1zM171 443h1v1h-1zM195 443h1v1h-1zM219 443h1v1h-1zM243 443h1v1h-1zM267 443h1v1h-1zM290 443h1v1h-1zM314 443h1v1h-1zM338 443h1v1h-1zM362 443h1v1h-1zM386 443h1v1h-1zM410 443h1v1h-1zM433 443h1v1h-1zM457 443h1v1h-1zM481 443h1v1h-1zM505 443h1v1h-1zM529 443h1v1h-1zM553 443h1v1h-1zM576 443h1v1h-1zM600 443h1v1h-1zM624 443h1v1h-1zM35 444h1v1h-1zM39 444h3v1h-3zM52 444h573v1h-573zM50 451h4v1h-4zM169 451h4v1h-4zM287 451h1v1h-1zM292 451h3v1h-3zM406 451h1v1h-1zM411 451h4v1h-4zM524 451h4v1h-4zM530 451h4v1h-4zM50 452h1v1h-1zM54 452h1v1h-1zM169 452h1v1h-1zM286 452h2v1h-2zM291 452h1v1h-1zM295 452h1v1h-1zM405 452h2v1h-2zM411 452h1v1h-1zM523 452h1v1h-1zM527 452h1v1h-1zM530 452h1v1h-1zM533 452h1v1h-1zM49 453h1v1h-1zM54 453h1v1h-1zM169 453h4v1h-4zM287 453h1v1h-1zM291 453h1v1h-1zM295 453h1v1h-1zM406 453h1v1h-1zM410 453h5v1h-5zM527 453h1v1h-1zM529 453h1v1h-1zM533 453h1v1h-1zM49 454h1v1h-1zM54 454h1v1h-1zM169 454h1v1h-1zM173 454h1v1h-1zM287 454h1v1h-1zM291 454h1v1h-1zM295 454h1v1h-1zM406 454h1v1h-1zM410 454h1v1h-1zM414 454h1v1h-1zM526 454h1v1h-1zM529 454h1v1h-1zM534 454h1v1h-1zM50 455h1v1h-1zM54 455h1v1h-1zM173 455h1v1h-1zM287 455h1v1h-1zM291 455h1v1h-1zM295 455h1v1h-1zM406 455h1v1h-1zM415 455h1v1h-1zM525 455h1v1h-1zM530 455h1v1h-1zM534 455h1v1h-1zM50 456h1v1h-1zM54 456h1v1h-1zM169 456h1v1h-1zM173 456h1v1h-1zM287 456h1v1h-1zM291 456h1v1h-1zM295 456h1v1h-1zM406 456h1v1h-1zM410 456h1v1h-1zM414 456h1v1h-1zM524 456h1v1h-1zM530 456h1v1h-1zM533 456h1v1h-1zM50 457h4v1h-4zM169 457h4v1h-4zM287 457h1v1h-1zM292 457h3v1h-3zM406 457h1v1h-1zM410 457h5v1h-5zM523 457h5v1h-5zM530 457h4v1h-4zM300 461h1v1h-1zM273 462h1v1h-1zM300 462h1v1h-1zM267 463h7v1h-7zM299 463h1v1h-1zM307 463h1v1h-1zM318 463h1v1h-1zM323 463h7v1h-7zM331 463h4v1h-4zM346 463h3v1h-3zM352 463h4v1h-4zM365 463h1v1h-1zM385 463h4v1h-4zM392 463h3v1h-3zM398 463h4v1h-4zM407 463h1v1h-1zM269 464h1v1h-1zM299 464h1v1h-1zM307 464h1v1h-1zM318 464h1v1h-1zM323 464h1v1h-1zM327 464h1v1h-1zM330 464h2v1h-2zM335 464h1v1h-1zM345 464h1v1h-1zM349 464h1v1h-1zM352 464h1v1h-1zM355 464h1v1h-1zM365 464h1v1h-1zM385 464h1v1h-1zM389 464h1v1h-1zM391 464h1v1h-1zM395 464h1v1h-1zM398 464h1v1h-1zM401 464h1v1h-1zM406 464h2v1h-2zM269 465h1v1h-1zM273 465h1v1h-1zM275 465h4v1h-4zM280 465h3v1h-3zM285 465h3v1h-3zM298 465h1v1h-1zM307 465h5v1h-5zM318 465h1v1h-1zM323 465h1v1h-1zM327 465h1v1h-1zM330 465h1v1h-1zM345 465h1v1h-1zM349 465h1v1h-1zM355 465h1v1h-1zM365 465h1v1h-1zM369 465h3v1h-3zM374 465h4v1h-4zM388 465h2v1h-2zM391 465h1v1h-1zM395 465h1v1h-1zM401 465h1v1h-1zM405 465h1v1h-1zM407 465h1v1h-1zM269 466h1v1h-1zM273 466h1v1h-1zM275 466h1v1h-1zM279 466h1v1h-1zM282 466h1v1h-1zM285 466h1v1h-1zM288 466h1v1h-1zM298 466h1v1h-1zM307 466h1v1h-1zM311 466h1v1h-1zM318 466h1v1h-1zM323 466h1v1h-1zM327 466h1v1h-1zM330 466h1v1h-1zM345 466h1v1h-1zM349 466h1v1h-1zM354 466h1v1h-1zM365 466h1v1h-1zM368 466h1v1h-1zM371 466h1v1h-1zM374 466h1v1h-1zM377 466h1v1h-1zM388 466h1v1h-1zM391 466h1v1h-1zM395 466h1v1h-1zM400 466h1v1h-1zM405 466h1v1h-1zM407 466h1v1h-1zM269 467h1v1h-1zM273 467h1v1h-1zM275 467h1v1h-1zM279 467h1v1h-1zM282 467h1v1h-1zM284 467h5v1h-5zM297 467h1v1h-1zM307 467h1v1h-1zM311 467h1v1h-1zM318 467h1v1h-1zM323 467h1v1h-1zM327 467h1v1h-1zM330 467h1v1h-1zM345 467h1v1h-1zM349 467h1v1h-1zM353 467h1v1h-1zM362 467h1v1h-1zM365 467h1v1h-1zM368 467h1v1h-1zM371 467h1v1h-1zM374 467h1v1h-1zM377 467h1v1h-1zM387 467h1v1h-1zM391 467h1v1h-1zM395 467h1v1h-1zM399 467h1v1h-1zM404 467h5v1h-5zM269 468h1v1h-1zM273 468h1v1h-1zM275 468h1v1h-1zM279 468h1v1h-1zM282 468h1v1h-1zM285 468h1v1h-1zM288 468h1v1h-1zM297 468h1v1h-1zM307 468h1v1h-1zM311 468h1v1h-1zM319 468h1v1h-1zM323 468h1v1h-1zM327 468h1v1h-1zM330 468h2v1h-2zM335 468h1v1h-1zM345 468h1v1h-1zM349 468h1v1h-1zM352 468h1v1h-1zM362 468h1v1h-1zM365 468h1v1h-1zM368 468h1v1h-1zM371 468h1v1h-1zM374 468h1v1h-1zM377 468h1v1h-1zM386 468h1v1h-1zM391 468h1v1h-1zM395 468h1v1h-1zM398 468h1v1h-1zM407 468h1v1h-1zM269 469h1v1h-1zM273 469h1v1h-1zM275 469h1v1h-1zM279 469h1v1h-1zM282 469h1v1h-1zM285 469h3v1h-3zM296 469h1v1h-1zM307 469h1v1h-1zM311 469h1v1h-1zM319 469h4v1h-4zM327 469h1v1h-1zM331 469h4v1h-4zM337 469h2v1h-2zM346 469h3v1h-3zM351 469h6v1h-6zM363 469h3v1h-3zM369 469h3v1h-3zM374 469h1v1h-1zM377 469h1v1h-1zM385 469h5v1h-5zM392 469h3v1h-3zM397 469h6v1h-6zM407 469h1v1h-1zM296 470h1v1h-1zM337 470h2v1h-2zM295 471h1v1h-1zM337 471h1v1h-1zM295 472h1v1h-1zM516 486h1v1h-1zM489 487h5v1h-5zM497 487h3v1h-3zM503 487h5v1h-5zM515 487h1v1h-1zM518 487h4v1h-4zM524 487h1v1h-1zM527 487h4v1h-4zM535 487h4v1h-4zM550 487h5v1h-5zM585 487h1v1h-1zM602 487h5v1h-5zM616 487h1v1h-1zM624 487h2v1h-2zM489 488h1v1h-1zM493 488h1v1h-1zM496 488h1v1h-1zM500 488h1v1h-1zM503 488h1v1h-1zM507 488h2v1h-2zM515 488h1v1h-1zM517 488h1v1h-1zM522 488h1v1h-1zM524 488h1v1h-1zM527 488h1v1h-1zM531 488h1v1h-1zM534 488h1v1h-1zM538 488h1v1h-1zM550 488h1v1h-1zM554 488h2v1h-2zM585 488h1v1h-1zM602 488h1v1h-1zM607 488h1v1h-1zM616 488h1v1h-1zM489 489h1v1h-1zM493 489h1v1h-1zM496 489h1v1h-1zM500 489h1v1h-1zM503 489h1v1h-1zM508 489h1v1h-1zM514 489h1v1h-1zM517 489h2v1h-2zM524 489h1v1h-1zM527 489h1v1h-1zM531 489h1v1h-1zM534 489h1v1h-1zM539 489h1v1h-1zM550 489h1v1h-1zM555 489h1v1h-1zM557 489h1v1h-1zM559 489h3v1h-3zM565 489h1v1h-1zM569 489h2v1h-2zM574 489h2v1h-2zM581 489h2v1h-2zM585 489h1v1h-1zM589 489h2v1h-2zM602 489h1v1h-1zM607 489h1v1h-1zM611 489h2v1h-2zM616 489h1v1h-1zM620 489h3v1h-3zM625 489h1v1h-1zM627 489h1v1h-1zM631 489h1v1h-1zM634 489h3v1h-3zM639 489h2v1h-2zM489 490h5v1h-5zM495 490h1v1h-1zM501 490h1v1h-1zM503 490h5v1h-5zM514 490h1v1h-1zM518 490h2v1h-2zM524 490h1v1h-1zM527 490h1v1h-1zM532 490h1v1h-1zM534 490h1v1h-1zM550 490h5v1h-5zM557 490h2v1h-2zM561 490h1v1h-1zM565 490h1v1h-1zM567 490h2v1h-2zM571 490h1v1h-1zM573 490h1v1h-1zM576 490h2v1h-2zM579 490h2v1h-2zM582 490h2v1h-2zM585 490h1v1h-1zM588 490h1v1h-1zM591 490h1v1h-1zM602 490h6v1h-6zM609 490h2v1h-2zM613 490h1v1h-1zM616 490h1v1h-1zM618 490h2v1h-2zM621 490h2v1h-2zM625 490h1v1h-1zM627 490h1v1h-1zM631 490h1v1h-1zM634 490h2v1h-2zM637 490h2v1h-2zM641 490h1v1h-1zM489 491h1v1h-1zM492 491h1v1h-1zM495 491h1v1h-1zM501 491h1v1h-1zM503 491h1v1h-1zM507 491h1v1h-1zM513 491h1v1h-1zM520 491h3v1h-3zM524 491h1v1h-1zM527 491h1v1h-1zM532 491h1v1h-1zM534 491h1v1h-1zM550 491h1v1h-1zM554 491h1v1h-1zM557 491h1v1h-1zM561 491h1v1h-1zM565 491h1v1h-1zM568 491h1v1h-1zM573 491h2v1h-2zM579 491h5v1h-5zM585 491h1v1h-1zM588 491h2v1h-2zM602 491h1v1h-1zM606 491h2v1h-2zM609 491h5v1h-5zM616 491h1v1h-1zM618 491h1v1h-1zM622 491h1v1h-1zM625 491h1v1h-1zM627 491h1v1h-1zM631 491h1v1h-1zM634 491h1v1h-1zM637 491h1v1h-1zM641 491h1v1h-1zM489 492h1v1h-1zM492 492h1v1h-1zM496 492h1v1h-1zM500 492h1v1h-1zM503 492h1v1h-1zM508 492h1v1h-1zM512 492h1v1h-1zM522 492h1v1h-1zM524 492h1v1h-1zM527 492h1v1h-1zM531 492h1v1h-1zM534 492h1v1h-1zM539 492h1v1h-1zM550 492h1v1h-1zM555 492h1v1h-1zM557 492h1v1h-1zM561 492h1v1h-1zM565 492h1v1h-1zM569 492h3v1h-3zM575 492h2v1h-2zM579 492h1v1h-1zM585 492h1v1h-1zM590 492h2v1h-2zM602 492h1v1h-1zM607 492h1v1h-1zM609 492h1v1h-1zM616 492h1v1h-1zM618 492h1v1h-1zM622 492h1v1h-1zM625 492h1v1h-1zM627 492h1v1h-1zM631 492h1v1h-1zM634 492h1v1h-1zM637 492h1v1h-1zM641 492h1v1h-1zM489 493h1v1h-1zM493 493h1v1h-1zM496 493h1v1h-1zM500 493h1v1h-1zM503 493h1v1h-1zM507 493h2v1h-2zM512 493h1v1h-1zM517 493h1v1h-1zM522 493h1v1h-1zM524 493h1v1h-1zM527 493h1v1h-1zM531 493h1v1h-1zM534 493h1v1h-1zM538 493h1v1h-1zM541 493h1v1h-1zM550 493h1v1h-1zM554 493h2v1h-2zM557 493h1v1h-1zM561 493h1v1h-1zM565 493h1v1h-1zM567 493h1v1h-1zM571 493h1v1h-1zM573 493h1v1h-1zM577 493h1v1h-1zM579 493h1v1h-1zM583 493h1v1h-1zM585 493h1v1h-1zM588 493h1v1h-1zM591 493h1v1h-1zM594 493h1v1h-1zM602 493h1v1h-1zM607 493h1v1h-1zM609 493h1v1h-1zM613 493h1v1h-1zM616 493h1v1h-1zM618 493h1v1h-1zM622 493h1v1h-1zM625 493h1v1h-1zM627 493h1v1h-1zM631 493h1v1h-1zM634 493h1v1h-1zM637 493h1v1h-1zM641 493h1v1h-1zM489 494h1v1h-1zM493 494h1v1h-1zM497 494h3v1h-3zM503 494h5v1h-5zM511 494h1v1h-1zM518 494h4v1h-4zM524 494h1v1h-1zM527 494h4v1h-4zM535 494h4v1h-4zM541 494h2v1h-2zM550 494h5v1h-5zM557 494h1v1h-1zM562 494h4v1h-4zM568 494h4v1h-4zM573 494h4v1h-4zM580 494h3v1h-3zM585 494h1v1h-1zM588 494h4v1h-4zM594 494h1v1h-1zM602 494h5v1h-5zM610 494h4v1h-4zM616 494h1v1h-1zM619 494h4v1h-4zM625 494h1v1h-1zM628 494h4v1h-4zM634 494h1v1h-1zM637 494h1v1h-1zM641 494h1v1h-1zM511 495h1v1h-1zM541 495h1v1h-1zM594 495h1v1h-1zM622 495h1v1h-1zM510 496h1v1h-1zM619 496h4v1h-4z"/>
<path class="red" fill="#ff0000" d="M492 123h5v1h-5zM491 125h1v1h-1zM496 125h1v1h-1zM497 127h1v1h-1zM490 128h1v1h-1zM490 131h1v1h-1zM498 131h1v1h-1zM489 134h1v1h-1zM499 134h1v1h-1zM489 137h1v1h-1zM499 137h1v1h-1zM488 140h1v1h-1zM500 140h1v1h-1zM501 142h1v1h-1zM488 143h1v1h-1zM502 145h1v1h-1zM487 146h1v1h-1zM502 148h1v1h-1zM487 151h1v1h-1zM503 151h1v1h-1zM504 154h1v1h-1zM487 157h1v1h-1zM504 157h1v1h-1zM505 160h1v1h-1zM505 162h1v1h-1zM486 165h1v1h-1zM506 165h1v1h-1zM507 168h1v1h-1zM486 172h1v1h-1zM507 172h1v1h-1zM508 175h1v1h-1zM508 177h1v1h-1zM508 180h1v1h-1zM485 181h1v1h-1zM509 183h1v1h-1zM279 185h1v1h-1zM509 185h1v1h-1zM280 186h1v1h-1zM510 187h1v1h-1zM510 189h1v1h-1zM279 190h1v1h-1zM287 191h1v1h-1zM485 192h1v1h-1zM511 192h1v1h-1zM280 193h1v1h-1zM511 194h1v1h-1zM512 196h1v1h-1zM287 197h2v1h-2zM512 198h1v1h-1zM543 199h2v1h-2zM278 200h1v1h-1zM280 200h1v1h-1zM543 200h1v1h-1zM551 200h2v1h-2zM215 201h2v1h-2zM513 201h1v1h-1zM545 201h1v1h-1zM225 202h1v1h-1zM288 202h1v1h-1zM545 202h1v1h-1zM552 202h1v1h-1zM216 203h1v1h-1zM281 203h1v1h-1zM514 203h1v1h-1zM537 203h1v1h-1zM542 203h2v1h-2zM545 203h2v1h-2zM553 203h1v1h-1zM215 204h3v1h-3zM485 204h1v1h-1zM541 204h2v1h-2zM546 204h1v1h-1zM214 205h1v1h-1zM217 205h1v1h-1zM514 205h1v1h-1zM540 205h2v1h-2zM546 205h2v1h-2zM214 206h1v1h-1zM218 206h1v1h-1zM225 206h1v1h-1zM537 206h1v1h-1zM539 206h1v1h-1zM547 206h2v1h-2zM550 206h1v1h-1zM553 206h1v1h-1zM214 207h1v1h-1zM548 207h1v1h-1zM281 208h1v1h-1zM515 208h1v1h-1zM536 208h1v1h-1zM538 208h2v1h-2zM548 208h2v1h-2zM288 209h1v1h-1zM515 209h1v1h-1zM536 209h1v1h-1zM549 209h2v1h-2zM553 209h1v1h-1zM218 210h1v1h-1zM278 210h1v1h-1zM535 210h2v1h-2zM549 210h2v1h-2zM213 211h1v1h-1zM533 211h3v1h-3zM549 211h1v1h-1zM554 211h1v1h-1zM282 212h1v1h-1zM516 212h1v1h-1zM532 212h2v1h-2zM71 213h2v1h-2zM162 213h1v1h-1zM218 213h1v1h-1zM484 213h1v1h-1zM517 213h1v1h-1zM531 213h2v1h-2zM72 214h2v1h-2zM162 214h2v1h-2zM554 214h1v1h-1zM74 215h2v1h-2zM213 215h1v1h-1zM517 215h1v1h-1zM531 215h1v1h-1zM71 216h1v1h-1zM76 216h2v1h-2zM161 216h1v1h-1zM163 216h1v1h-1zM219 216h1v1h-1zM224 216h1v1h-1zM282 216h1v1h-1zM286 216h1v1h-1zM524 216h2v1h-2zM554 216h1v1h-1zM77 217h1v1h-1zM164 217h1v1h-1zM197 217h1v1h-1zM226 217h1v1h-1zM289 217h1v1h-1zM518 217h1v1h-1zM523 217h2v1h-2zM530 217h1v1h-1zM78 218h1v1h-1zM196 218h1v1h-1zM198 218h1v1h-1zM518 218h1v1h-1zM523 218h1v1h-1zM526 218h1v1h-1zM530 218h1v1h-1zM79 219h1v1h-1zM150 219h1v1h-1zM164 219h1v1h-1zM195 219h2v1h-2zM199 219h1v1h-1zM219 219h1v1h-1zM282 219h1v1h-1zM484 219h1v1h-1zM519 219h1v1h-1zM527 219h1v1h-1zM555 219h1v1h-1zM79 220h1v1h-1zM161 220h1v1h-1zM195 220h1v1h-1zM199 220h2v1h-2zM212 220h1v1h-1zM519 220h1v1h-1zM523 220h1v1h-1zM527 220h3v1h-3zM80 221h1v1h-1zM150 221h2v1h-2zM164 221h1v1h-1zM194 221h1v1h-1zM201 221h1v1h-1zM519 221h2v1h-2zM528 221h1v1h-1zM70 222h1v1h-1zM80 222h2v1h-2zM165 222h1v1h-1zM202 222h1v1h-1zM220 222h1v1h-1zM224 222h1v1h-1zM520 222h2v1h-2zM555 222h1v1h-1zM81 223h1v1h-1zM131 223h1v1h-1zM151 223h1v1h-1zM283 223h1v1h-1zM302 223h1v1h-1zM379 223h2v1h-2zM483 223h1v1h-1zM521 223h2v1h-2zM82 224h1v1h-1zM131 224h1v1h-1zM166 224h1v1h-1zM193 224h1v1h-1zM203 224h1v1h-1zM220 224h1v1h-1zM522 224h1v1h-1zM556 224h1v1h-1zM83 225h2v1h-2zM91 225h2v1h-2zM130 225h1v1h-1zM132 225h1v1h-1zM151 225h1v1h-1zM160 225h1v1h-1zM166 225h1v1h-1zM212 225h1v1h-1zM224 225h1v1h-1zM226 225h1v1h-1zM278 225h1v1h-1zM289 225h1v1h-1zM301 225h1v1h-1zM303 225h1v1h-1zM483 225h1v1h-1zM85 226h2v1h-2zM92 226h1v1h-1zM130 226h1v1h-1zM134 226h1v1h-1zM149 226h1v1h-1zM167 226h1v1h-1zM204 226h1v1h-1zM220 226h1v1h-1zM380 226h1v1h-1zM467 226h1v1h-1zM482 226h1v1h-1zM556 226h1v1h-1zM87 227h1v1h-1zM91 227h1v1h-1zM106 227h2v1h-2zM132 227h1v1h-1zM134 227h1v1h-1zM152 227h1v1h-1zM167 227h1v1h-1zM204 227h2v1h-2zM283 227h1v1h-1zM464 227h1v1h-1zM466 227h1v1h-1zM478 227h2v1h-2zM481 227h2v1h-2zM52 228h3v1h-3zM88 228h1v1h-1zM108 228h1v1h-1zM133 228h1v1h-1zM135 228h1v1h-1zM152 228h1v1h-1zM168 228h1v1h-1zM172 228h4v1h-4zM205 228h4v1h-4zM212 228h1v1h-1zM221 228h1v1h-1zM303 228h1v1h-1zM468 228h1v1h-1zM477 228h1v1h-1zM479 228h3v1h-3zM557 228h1v1h-1zM578 228h1v1h-1zM55 229h3v1h-3zM70 229h1v1h-1zM89 229h2v1h-2zM92 229h3v1h-3zM105 229h1v1h-1zM108 229h1v1h-1zM129 229h1v1h-1zM133 229h1v1h-1zM152 229h1v1h-1zM160 229h1v1h-1zM169 229h1v1h-1zM171 229h1v1h-1zM176 229h3v1h-3zM193 229h1v1h-1zM209 229h1v1h-1zM222 229h1v1h-1zM301 229h1v1h-1zM421 229h1v1h-1zM426 229h3v1h-3zM463 229h1v1h-1zM469 229h1v1h-1zM557 229h1v1h-1zM577 229h1v1h-1zM58 230h2v1h-2zM90 230h3v1h-3zM95 230h1v1h-1zM100 230h3v1h-3zM104 230h1v1h-1zM109 230h1v1h-1zM135 230h1v1h-1zM140 230h1v1h-1zM146 230h3v1h-3zM153 230h1v1h-1zM157 230h2v1h-2zM160 230h1v1h-1zM169 230h3v1h-3zM176 230h3v1h-3zM209 230h1v1h-1zM236 230h1v1h-1zM284 230h1v1h-1zM425 230h2v1h-2zM428 230h2v1h-2zM465 230h1v1h-1zM469 230h1v1h-1zM476 230h1v1h-1zM579 230h1v1h-1zM60 231h5v1h-5zM95 231h2v1h-2zM99 231h2v1h-2zM103 231h2v1h-2zM109 231h2v1h-2zM135 231h1v1h-1zM140 231h1v1h-1zM148 231h2v1h-2zM153 231h2v1h-2zM156 231h2v1h-2zM159 231h2v1h-2zM179 231h1v1h-1zM209 231h3v1h-3zM222 231h2v1h-2zM226 231h1v1h-1zM236 231h1v1h-1zM290 231h1v1h-1zM304 231h1v1h-1zM425 231h1v1h-1zM429 231h2v1h-2zM558 231h1v1h-1zM577 231h1v1h-1zM62 232h1v1h-1zM65 232h5v1h-5zM96 232h4v1h-4zM110 232h2v1h-2zM129 232h1v1h-1zM136 232h1v1h-1zM139 232h1v1h-1zM141 232h1v1h-1zM146 232h1v1h-1zM149 232h1v1h-1zM154 232h3v1h-3zM180 232h1v1h-1zM222 232h1v1h-1zM237 232h1v1h-1zM422 232h1v1h-1zM430 232h2v1h-2zM469 232h2v1h-2zM67 233h1v1h-1zM98 233h1v1h-1zM111 233h4v1h-4zM136 233h1v1h-1zM141 233h1v1h-1zM156 233h1v1h-1zM235 233h1v1h-1zM237 233h1v1h-1zM424 233h2v1h-2zM431 233h2v1h-2zM463 233h1v1h-1zM470 233h2v1h-2zM476 233h1v1h-1zM579 233h1v1h-1zM115 234h1v1h-1zM284 234h1v1h-1zM301 234h1v1h-1zM305 234h1v1h-1zM424 234h1v1h-1zM433 234h2v1h-2zM559 234h1v1h-1zM115 235h2v1h-2zM126 235h2v1h-2zM137 235h1v1h-1zM141 235h1v1h-1zM143 235h1v1h-1zM227 235h1v1h-1zM239 235h1v1h-1zM343 235h1v1h-1zM423 235h2v1h-2zM434 235h2v1h-2zM458 235h6v1h-6zM471 235h3v1h-3zM475 235h1v1h-1zM116 236h2v1h-2zM127 236h2v1h-2zM138 236h1v1h-1zM142 236h2v1h-2zM182 236h4v1h-4zM193 236h1v1h-1zM239 236h1v1h-1zM290 236h1v1h-1zM383 236h1v1h-1zM435 236h1v1h-1zM453 236h1v1h-1zM457 236h2v1h-2zM473 236h2v1h-2zM560 236h1v1h-1zM579 236h1v1h-1zM117 237h1v1h-1zM120 237h2v1h-2zM128 237h1v1h-1zM183 237h1v1h-1zM185 237h1v1h-1zM285 237h1v1h-1zM305 237h1v1h-1zM344 237h1v1h-1zM381 237h2v1h-2zM402 237h2v1h-2zM436 237h1v1h-1zM444 237h1v1h-1zM454 237h1v1h-1zM457 237h1v1h-1zM118 238h3v1h-3zM122 238h1v1h-1zM124 238h2v1h-2zM186 238h2v1h-2zM227 238h1v1h-1zM235 238h1v1h-1zM240 238h1v1h-1zM277 238h1v1h-1zM382 238h1v1h-1zM402 238h1v1h-1zM421 238h1v1h-1zM436 238h2v1h-2zM445 238h1v1h-1zM452 238h1v1h-1zM455 238h2v1h-2zM561 238h1v1h-1zM123 239h2v1h-2zM187 239h2v1h-2zM272 239h3v1h-3zM276 239h2v1h-2zM286 239h1v1h-1zM290 239h1v1h-1zM306 239h1v1h-1zM342 239h1v1h-1zM344 239h1v1h-1zM384 239h1v1h-1zM420 239h2v1h-2zM437 239h4v1h-4zM446 239h1v1h-1zM456 239h1v1h-1zM562 239h1v1h-1zM580 239h1v1h-1zM188 240h2v1h-2zM241 240h1v1h-1zM271 240h2v1h-2zM275 240h2v1h-2zM301 240h1v1h-1zM401 240h3v1h-3zM419 240h2v1h-2zM440 240h4v1h-4zM447 240h1v1h-1zM452 240h1v1h-1zM562 240h1v1h-1zM189 241h1v1h-1zM192 241h1v1h-1zM228 241h1v1h-1zM268 241h4v1h-4zM307 241h1v1h-1zM341 241h2v1h-2zM344 241h1v1h-1zM372 241h8v1h-8zM401 241h1v1h-1zM414 241h6v1h-6zM442 241h1v1h-1zM448 241h1v1h-1zM563 241h1v1h-1zM242 242h1v1h-1zM267 242h1v1h-1zM291 242h1v1h-1zM300 242h1v1h-1zM308 242h4v1h-4zM341 242h1v1h-1zM345 242h2v1h-2zM371 242h2v1h-2zM378 242h2v1h-2zM384 242h1v1h-1zM391 242h2v1h-2zM400 242h1v1h-1zM404 242h1v1h-1zM413 242h2v1h-2zM449 242h2v1h-2zM564 242h1v1h-1zM580 242h1v1h-1zM600 242h1v1h-1zM190 243h1v1h-1zM229 243h1v1h-1zM234 243h1v1h-1zM242 243h3v1h-3zM259 243h2v1h-2zM266 243h1v1h-1zM299 243h1v1h-1zM311 243h5v1h-5zM324 243h1v1h-1zM339 243h3v1h-3zM346 243h2v1h-2zM366 243h2v1h-2zM370 243h2v1h-2zM384 243h1v1h-1zM388 243h1v1h-1zM390 243h3v1h-3zM399 243h2v1h-2zM404 243h1v1h-1zM413 243h1v1h-1zM450 243h3v1h-3zM564 243h2v1h-2zM191 244h1v1h-1zM244 244h2v1h-2zM247 244h3v1h-3zM258 244h3v1h-3zM265 244h2v1h-2zM292 244h2v1h-2zM298 244h2v1h-2zM315 244h2v1h-2zM322 244h2v1h-2zM325 244h2v1h-2zM339 244h1v1h-1zM341 244h1v1h-1zM348 244h1v1h-1zM365 244h6v1h-6zM385 244h1v1h-1zM387 244h1v1h-1zM389 244h1v1h-1zM392 244h1v1h-1zM399 244h1v1h-1zM404 244h1v1h-1zM412 244h1v1h-1zM565 244h2v1h-2zM581 244h1v1h-1zM192 245h1v1h-1zM230 245h5v1h-5zM245 245h3v1h-3zM250 245h2v1h-2zM256 245h3v1h-3zM260 245h2v1h-2zM264 245h2v1h-2zM293 245h6v1h-6zM316 245h7v1h-7zM327 245h1v1h-1zM338 245h1v1h-1zM349 245h1v1h-1zM364 245h2v1h-2zM368 245h2v1h-2zM385 245h2v1h-2zM393 245h2v1h-2zM397 245h2v1h-2zM405 245h1v1h-1zM410 245h2v1h-2zM566 245h2v1h-2zM599 245h1v1h-1zM252 246h5v1h-5zM261 246h4v1h-4zM328 246h2v1h-2zM349 246h2v1h-2zM356 246h3v1h-3zM363 246h2v1h-2zM394 246h4v1h-4zM406 246h1v1h-1zM409 246h2v1h-2zM567 246h2v1h-2zM572 246h2v1h-2zM582 246h1v1h-1zM601 246h1v1h-1zM603 246h1v1h-1zM329 247h2v1h-2zM333 247h2v1h-2zM337 247h2v1h-2zM350 247h2v1h-2zM353 247h4v1h-4zM359 247h1v1h-1zM362 247h2v1h-2zM407 247h3v1h-3zM569 247h6v1h-6zM576 247h1v1h-1zM582 247h1v1h-1zM601 247h2v1h-2zM604 247h1v1h-1zM330 248h8v1h-8zM351 248h3v1h-3zM360 248h3v1h-3zM574 248h2v1h-2zM583 248h1v1h-1zM593 248h3v1h-3zM602 248h1v1h-1zM604 248h1v1h-1zM584 249h1v1h-1zM593 249h1v1h-1zM595 249h1v1h-1zM621 249h1v1h-1zM585 250h5v1h-5zM595 250h1v1h-1zM616 250h8v1h-8zM589 251h5v1h-5zM596 251h4v1h-4zM605 251h2v1h-2zM608 251h16v1h-16zM591 252h2v1h-2zM597 252h1v1h-1zM606 252h11v1h-11zM608 253h8v1h-8zM609 254h1v1h-1z"/>
<path class="blue" fill="#0000ff" d="M496 116h1v1h-1zM495 117h3v1h-3zM495 118h1v1h-1zM497 118h1v1h-1zM494 120h1v1h-1zM498 120h1v1h-1zM493 121h1v1h-1zM499 122h1v1h-1zM499 123h1v1h-1zM492 124h1v1h-1zM500 125h1v1h-1zM492 127h1v1h-1zM501 127h1v1h-1zM491 130h1v1h-1zM502 130h1v1h-1zM491 133h1v1h-1zM503 133h1v1h-1zM504 135h1v1h-1zM490 136h1v1h-1zM505 137h1v1h-1zM490 138h1v1h-1zM505 139h1v1h-1zM489 142h1v1h-1zM506 142h1v1h-1zM489 145h1v1h-1zM507 145h1v1h-1zM508 147h1v1h-1zM489 148h1v1h-1zM508 150h1v1h-1zM488 152h1v1h-1zM508 152h1v1h-1zM509 154h1v1h-1zM488 156h1v1h-1zM509 156h1v1h-1zM510 158h1v1h-1zM487 161h1v1h-1zM487 172h1v1h-1zM486 178h1v1h-1zM486 183h1v1h-1zM485 190h1v1h-1zM217 192h2v1h-2zM544 192h1v1h-1zM216 193h2v1h-2zM288 193h1v1h-1zM545 193h1v1h-1zM215 194h1v1h-1zM218 194h1v1h-1zM537 194h1v1h-1zM543 194h1v1h-1zM546 194h1v1h-1zM288 195h1v1h-1zM546 195h2v1h-2zM215 196h1v1h-1zM225 196h1v1h-1zM485 196h1v1h-1zM537 196h1v1h-1zM541 196h2v1h-2zM547 196h2v1h-2zM218 197h1v1h-1zM225 197h1v1h-1zM539 197h3v1h-3zM548 197h2v1h-2zM214 198h1v1h-1zM288 198h1v1h-1zM523 198h3v1h-3zM536 198h4v1h-4zM549 198h2v1h-2zM214 199h1v1h-1zM219 199h1v1h-1zM287 199h1v1h-1zM522 199h2v1h-2zM525 199h2v1h-2zM534 199h3v1h-3zM214 200h1v1h-1zM522 200h1v1h-1zM526 200h2v1h-2zM532 200h3v1h-3zM219 201h1v1h-1zM226 201h1v1h-1zM527 201h6v1h-6zM74 202h4v1h-4zM529 202h1v1h-1zM72 203h3v1h-3zM213 203h1v1h-1zM220 203h1v1h-1zM289 203h1v1h-1zM71 204h2v1h-2zM220 205h1v1h-1zM224 205h1v1h-1zM71 206h1v1h-1zM213 206h1v1h-1zM220 206h1v1h-1zM91 207h3v1h-3zM226 207h1v1h-1zM93 208h2v1h-2zM106 208h3v1h-3zM151 208h1v1h-1zM221 208h1v1h-1zM224 208h1v1h-1zM289 208h1v1h-1zM52 209h3v1h-3zM71 209h1v1h-1zM89 209h3v1h-3zM95 209h1v1h-1zM105 209h2v1h-2zM108 209h2v1h-2zM150 209h2v1h-2zM174 209h2v1h-2zM178 209h1v1h-1zM212 209h1v1h-1zM221 209h1v1h-1zM484 209h1v1h-1zM55 210h3v1h-3zM96 210h2v1h-2zM100 210h6v1h-6zM109 210h2v1h-2zM152 210h1v1h-1zM172 210h2v1h-2zM176 210h2v1h-2zM179 210h1v1h-1zM222 210h1v1h-1zM224 210h1v1h-1zM58 211h3v1h-3zM70 211h1v1h-1zM97 211h3v1h-3zM110 211h2v1h-2zM150 211h1v1h-1zM152 211h1v1h-1zM171 211h1v1h-1zM212 211h1v1h-1zM222 211h1v1h-1zM226 211h1v1h-1zM61 212h5v1h-5zM112 212h2v1h-2zM153 212h1v1h-1zM167 212h5v1h-5zM179 212h2v1h-2zM195 212h1v1h-1zM290 212h1v1h-1zM466 212h3v1h-3zM484 212h1v1h-1zM66 213h2v1h-2zM114 213h2v1h-2zM154 213h2v1h-2zM180 213h1v1h-1zM208 213h1v1h-1zM212 213h1v1h-1zM222 213h2v1h-2zM286 213h1v1h-1zM302 213h2v1h-2zM465 213h1v1h-1zM469 213h1v1h-1zM67 214h2v1h-2zM70 214h1v1h-1zM115 214h2v1h-2zM149 214h1v1h-1zM155 214h1v1h-1zM181 214h1v1h-1zM194 214h1v1h-1zM207 214h3v1h-3zM211 214h1v1h-1zM223 214h1v1h-1zM227 214h1v1h-1zM302 214h2v1h-2zM469 214h1v1h-1zM483 214h1v1h-1zM69 215h1v1h-1zM116 215h1v1h-1zM182 215h1v1h-1zM207 215h1v1h-1zM209 215h3v1h-3zM464 215h1v1h-1zM469 215h1v1h-1zM482 215h2v1h-2zM183 216h1v1h-1zM227 216h1v1h-1zM291 216h1v1h-1zM427 216h3v1h-3zM482 216h1v1h-1zM147 217h3v1h-3zM184 217h1v1h-1zM301 217h1v1h-1zM304 217h1v1h-1zM426 217h1v1h-1zM430 217h1v1h-1zM463 217h1v1h-1zM470 217h1v1h-1zM128 218h1v1h-1zM146 218h1v1h-1zM185 218h2v1h-2zM193 218h1v1h-1zM305 218h1v1h-1zM380 218h1v1h-1zM425 218h1v1h-1zM431 218h1v1h-1zM145 219h1v1h-1zM186 219h1v1h-1zM228 219h1v1h-1zM285 219h1v1h-1zM425 219h1v1h-1zM459 219h2v1h-2zM145 220h1v1h-1zM187 220h2v1h-2zM290 220h1v1h-1zM305 220h1v1h-1zM421 220h2v1h-2zM425 220h1v1h-1zM458 220h2v1h-2zM461 220h1v1h-1zM144 221h1v1h-1zM188 221h1v1h-1zM228 221h1v1h-1zM286 221h1v1h-1zM306 221h1v1h-1zM379 221h2v1h-2zM422 221h2v1h-2zM457 221h2v1h-2zM462 221h2v1h-2zM144 222h1v1h-1zM291 222h1v1h-1zM423 222h1v1h-1zM456 222h2v1h-2zM143 223h1v1h-1zM189 223h1v1h-1zM307 223h1v1h-1zM423 223h2v1h-2zM444 223h2v1h-2zM453 223h4v1h-4zM561 223h1v1h-1zM143 224h1v1h-1zM189 224h1v1h-1zM228 224h1v1h-1zM381 224h1v1h-1zM424 224h1v1h-1zM443 224h4v1h-4zM562 224h1v1h-1zM143 225h1v1h-1zM229 225h1v1h-1zM292 225h1v1h-1zM421 225h1v1h-1zM442 225h1v1h-1zM446 225h2v1h-2zM562 225h1v1h-1zM142 226h1v1h-1zM190 226h1v1h-1zM229 226h1v1h-1zM267 226h2v1h-2zM273 226h1v1h-1zM307 226h1v1h-1zM381 226h1v1h-1zM420 226h2v1h-2zM447 226h2v1h-2zM452 226h1v1h-1zM578 226h1v1h-1zM142 227h1v1h-1zM191 227h1v1h-1zM230 227h1v1h-1zM268 227h2v1h-2zM273 227h1v1h-1zM292 227h1v1h-1zM307 227h1v1h-1zM382 227h1v1h-1zM403 227h1v1h-1zM419 227h2v1h-2zM449 227h2v1h-2zM563 227h2v1h-2zM141 228h1v1h-1zM192 228h1v1h-1zM230 228h1v1h-1zM266 228h1v1h-1zM269 228h4v1h-4zM292 228h1v1h-1zM301 228h1v1h-1zM308 228h3v1h-3zM324 228h1v1h-1zM343 228h1v1h-1zM382 228h1v1h-1zM416 228h4v1h-4zM451 228h2v1h-2zM564 228h1v1h-1zM568 228h1v1h-1zM579 228h1v1h-1zM141 229h1v1h-1zM231 229h2v1h-2zM259 229h2v1h-2zM266 229h1v1h-1zM271 229h1v1h-1zM293 229h1v1h-1zM300 229h2v1h-2zM311 229h1v1h-1zM325 229h1v1h-1zM344 229h1v1h-1zM379 229h1v1h-1zM383 229h2v1h-2zM414 229h3v1h-3zM565 229h1v1h-1zM569 229h1v1h-1zM232 230h3v1h-3zM256 230h3v1h-3zM260 230h1v1h-1zM265 230h1v1h-1zM294 230h2v1h-2zM299 230h2v1h-2zM312 230h1v1h-1zM326 230h1v1h-1zM342 230h1v1h-1zM373 230h6v1h-6zM404 230h1v1h-1zM565 230h3v1h-3zM577 230h1v1h-1zM579 230h1v1h-1zM233 231h2v1h-2zM246 231h6v1h-6zM255 231h2v1h-2zM258 231h1v1h-1zM261 231h2v1h-2zM264 231h2v1h-2zM295 231h5v1h-5zM312 231h2v1h-2zM326 231h2v1h-2zM341 231h1v1h-1zM344 231h1v1h-1zM371 231h3v1h-3zM377 231h3v1h-3zM384 231h1v1h-1zM413 231h1v1h-1zM566 231h1v1h-1zM580 231h1v1h-1zM246 232h1v1h-1zM251 232h5v1h-5zM262 232h3v1h-3zM313 232h1v1h-1zM327 232h2v1h-2zM340 232h2v1h-2zM345 232h2v1h-2zM365 232h3v1h-3zM370 232h2v1h-2zM384 232h1v1h-1zM404 232h1v1h-1zM412 232h1v1h-1zM570 232h1v1h-1zM254 233h1v1h-1zM263 233h1v1h-1zM297 233h1v1h-1zM328 233h1v1h-1zM339 233h2v1h-2zM346 233h2v1h-2zM364 233h2v1h-2zM367 233h2v1h-2zM370 233h1v1h-1zM385 233h8v1h-8zM405 233h1v1h-1zM411 233h1v1h-1zM329 234h2v1h-2zM339 234h1v1h-1zM348 234h2v1h-2zM364 234h1v1h-1zM368 234h2v1h-2zM406 234h2v1h-2zM409 234h2v1h-2zM140 235h1v1h-1zM330 235h3v1h-3zM338 235h1v1h-1zM349 235h1v1h-1zM407 235h3v1h-3zM571 235h2v1h-2zM332 236h7v1h-7zM350 236h1v1h-1zM572 236h2v1h-2zM581 236h1v1h-1zM351 237h1v1h-1zM573 237h2v1h-2zM351 238h1v1h-1zM574 238h2v1h-2zM336 239h1v1h-1zM352 239h1v1h-1zM575 239h2v1h-2zM582 239h1v1h-1zM600 240h1v1h-1zM140 241h1v1h-1zM583 241h1v1h-1zM583 242h2v1h-2zM584 243h2v1h-2zM601 243h1v1h-1zM585 244h1v1h-1zM586 245h1v1h-1zM604 245h1v1h-1zM587 246h1v1h-1zM588 247h1v1h-1zM605 247h1v1h-1zM606 250h1v1h-1zM612 250h1v1h-1zM607 252h2v1h-2zM610 252h4v1h-4zM621 252h2v1h-2zM618 253h1v1h-1zM619 254h2v1h-2zM139 260h1v1h-1z"/>
<path class="grey" fill="#808080" d="M496 111h1v1h-1zM494 112h2v1h-2zM497 112h1v1h-1zM494 113h1v1h-1zM498 113h1v1h-1zM498 114h1v1h-1zM493 115h1v1h-1zM499 116h1v1h-1zM493 117h1v1h-1zM499 118h1v1h-1zM492 120h1v1h-1zM500 120h1v1h-1zM501 122h1v1h-1zM502 124h1v1h-1zM491 126h1v1h-1zM502 126h1v1h-1zM503 128h1v1h-1zM504 131h1v1h-1zM490 132h1v1h-1zM505 133h1v1h-1zM506 135h1v1h-1zM507 137h1v1h-1zM489 138h1v1h-1zM507 139h1v1h-1zM508 142h1v1h-1zM488 143h1v1h-1zM508 144h1v1h-1zM509 146h1v1h-1zM488 147h1v1h-1zM509 148h1v1h-1zM510 150h1v1h-1zM487 155h1v1h-1zM487 160h1v1h-1zM487 166h1v1h-1zM486 177h1v1h-1zM485 183h1v1h-1zM217 185h1v1h-1zM287 185h1v1h-1zM544 185h1v1h-1zM216 186h1v1h-1zM218 186h1v1h-1zM288 186h1v1h-1zM544 186h2v1h-2zM215 187h1v1h-1zM218 187h1v1h-1zM537 187h1v1h-1zM543 187h1v1h-1zM545 187h2v1h-2zM288 188h1v1h-1zM546 188h1v1h-1zM215 189h1v1h-1zM218 189h1v1h-1zM485 189h1v1h-1zM541 189h2v1h-2zM546 189h2v1h-2zM225 190h1v1h-1zM537 190h5v1h-5zM547 190h2v1h-2zM214 191h1v1h-1zM225 191h1v1h-1zM288 191h1v1h-1zM522 191h4v1h-4zM536 191h2v1h-2zM539 191h1v1h-1zM548 191h2v1h-2zM214 192h1v1h-1zM219 192h1v1h-1zM522 192h1v1h-1zM525 192h2v1h-2zM533 192h4v1h-4zM526 193h3v1h-3zM531 193h3v1h-3zM214 194h1v1h-1zM219 194h1v1h-1zM528 194h4v1h-4zM74 195h2v1h-2zM226 195h1v1h-1zM72 196h6v1h-6zM213 196h1v1h-1zM220 196h1v1h-1zM289 196h1v1h-1zM71 197h2v1h-2zM71 198h1v1h-1zM220 198h1v1h-1zM485 198h1v1h-1zM71 199h1v1h-1zM92 199h1v1h-1zM213 199h1v1h-1zM224 199h1v1h-1zM91 200h1v1h-1zM93 200h2v1h-2zM151 200h1v1h-1zM220 200h1v1h-1zM226 200h1v1h-1zM71 201h1v1h-1zM90 201h2v1h-2zM94 201h2v1h-2zM106 201h3v1h-3zM150 201h1v1h-1zM175 201h1v1h-1zM221 201h1v1h-1zM289 201h1v1h-1zM52 202h4v1h-4zM89 202h2v1h-2zM95 202h2v1h-2zM104 202h2v1h-2zM108 202h2v1h-2zM152 202h1v1h-1zM173 202h2v1h-2zM176 202h4v1h-4zM212 202h1v1h-1zM221 202h1v1h-1zM56 203h2v1h-2zM71 203h1v1h-1zM89 203h1v1h-1zM96 203h2v1h-2zM100 203h5v1h-5zM109 203h2v1h-2zM150 203h1v1h-1zM152 203h1v1h-1zM172 203h1v1h-1zM177 203h1v1h-1zM222 203h1v1h-1zM58 204h4v1h-4zM63 204h2v1h-2zM98 204h3v1h-3zM111 204h3v1h-3zM153 204h1v1h-1zM171 204h1v1h-1zM195 204h1v1h-1zM224 204h1v1h-1zM226 204h1v1h-1zM62 205h1v1h-1zM65 205h2v1h-2zM114 205h1v1h-1zM154 205h2v1h-2zM167 205h4v1h-4zM179 205h2v1h-2zM212 205h1v1h-1zM222 205h1v1h-1zM286 205h1v1h-1zM290 205h1v1h-1zM66 206h3v1h-3zM115 206h1v1h-1zM149 206h1v1h-1zM155 206h1v1h-1zM181 206h1v1h-1zM194 206h1v1h-1zM222 206h1v1h-1zM302 206h2v1h-2zM68 207h2v1h-2zM116 207h1v1h-1zM182 207h1v1h-1zM207 207h2v1h-2zM223 207h1v1h-1zM302 207h2v1h-2zM466 207h3v1h-3zM484 207h1v1h-1zM69 208h2v1h-2zM183 208h1v1h-1zM194 208h1v1h-1zM209 208h1v1h-1zM211 208h1v1h-1zM227 208h1v1h-1zM465 208h1v1h-1zM469 208h1v1h-1zM148 209h2v1h-2zM184 209h1v1h-1zM207 209h1v1h-1zM210 209h1v1h-1zM227 209h1v1h-1zM303 209h1v1h-1zM464 209h1v1h-1zM484 209h1v1h-1zM147 210h3v1h-3zM185 210h1v1h-1zM207 210h1v1h-1zM290 210h1v1h-1zM301 210h1v1h-1zM303 210h2v1h-2zM469 210h1v1h-1zM146 211h1v1h-1zM186 211h3v1h-3zM193 211h1v1h-1zM285 211h1v1h-1zM304 211h2v1h-2zM426 211h5v1h-5zM483 211h1v1h-1zM128 212h1v1h-1zM146 212h1v1h-1zM188 212h1v1h-1zM305 212h1v1h-1zM380 212h1v1h-1zM426 212h1v1h-1zM430 212h1v1h-1zM464 212h1v1h-1zM470 212h1v1h-1zM482 212h1v1h-1zM145 213h1v1h-1zM188 213h1v1h-1zM193 213h1v1h-1zM228 213h1v1h-1zM290 213h1v1h-1zM305 213h2v1h-2zM425 213h1v1h-1zM431 213h1v1h-1zM145 214h1v1h-1zM189 214h1v1h-1zM459 214h2v1h-2zM144 215h1v1h-1zM228 215h1v1h-1zM306 215h1v1h-1zM379 215h1v1h-1zM421 215h1v1h-1zM425 215h1v1h-1zM458 215h2v1h-2zM461 215h1v1h-1zM189 216h1v1h-1zM228 216h1v1h-1zM291 216h1v1h-1zM422 216h1v1h-1zM457 216h2v1h-2zM462 216h2v1h-2zM143 217h1v1h-1zM189 217h1v1h-1zM193 217h1v1h-1zM228 217h1v1h-1zM267 217h1v1h-1zM301 217h1v1h-1zM307 217h1v1h-1zM424 217h1v1h-1zM456 217h2v1h-2zM190 218h1v1h-1zM291 218h1v1h-1zM421 218h1v1h-1zM423 218h1v1h-1zM453 218h4v1h-4zM143 219h1v1h-1zM190 219h1v1h-1zM229 219h1v1h-1zM273 219h1v1h-1zM423 219h1v1h-1zM444 219h2v1h-2zM453 219h1v1h-1zM143 220h1v1h-1zM191 220h1v1h-1zM307 220h2v1h-2zM324 220h1v1h-1zM381 220h1v1h-1zM424 220h1v1h-1zM443 220h4v1h-4zM561 220h1v1h-1zM142 221h1v1h-1zM191 221h2v1h-2zM230 221h1v1h-1zM266 221h3v1h-3zM272 221h2v1h-2zM292 221h1v1h-1zM301 221h1v1h-1zM308 221h3v1h-3zM382 221h1v1h-1zM442 221h1v1h-1zM446 221h2v1h-2zM452 221h1v1h-1zM562 221h1v1h-1zM230 222h2v1h-2zM234 222h1v1h-1zM268 222h5v1h-5zM300 222h1v1h-1zM311 222h1v1h-1zM343 222h1v1h-1zM383 222h1v1h-1zM403 222h1v1h-1zM420 222h2v1h-2zM447 222h2v1h-2zM450 222h2v1h-2zM563 222h1v1h-1zM578 222h2v1h-2zM142 223h1v1h-1zM259 223h1v1h-1zM266 223h1v1h-1zM293 223h1v1h-1zM297 223h4v1h-4zM311 223h1v1h-1zM325 223h1v1h-1zM343 223h2v1h-2zM384 223h1v1h-1zM417 223h4v1h-4zM449 223h2v1h-2zM563 223h2v1h-2zM232 224h3v1h-3zM257 224h1v1h-1zM260 224h1v1h-1zM265 224h1v1h-1zM294 224h4v1h-4zM299 224h1v1h-1zM312 224h1v1h-1zM325 224h1v1h-1zM342 224h1v1h-1zM344 224h1v1h-1zM374 224h6v1h-6zM414 224h4v1h-4zM451 224h1v1h-1zM564 224h2v1h-2zM141 225h1v1h-1zM256 225h1v1h-1zM258 225h1v1h-1zM260 225h2v1h-2zM264 225h2v1h-2zM295 225h1v1h-1zM326 225h1v1h-1zM372 225h2v1h-2zM378 225h1v1h-1zM565 225h4v1h-4zM577 225h1v1h-1zM247 226h4v1h-4zM255 226h1v1h-1zM261 226h2v1h-2zM264 226h1v1h-1zM326 226h2v1h-2zM341 226h1v1h-1zM344 226h3v1h-3zM371 226h2v1h-2zM383 226h2v1h-2zM404 226h1v1h-1zM566 226h2v1h-2zM569 226h1v1h-1zM247 227h1v1h-1zM251 227h2v1h-2zM254 227h2v1h-2zM263 227h1v1h-1zM313 227h1v1h-1zM327 227h2v1h-2zM345 227h2v1h-2zM370 227h2v1h-2zM384 227h1v1h-1zM413 227h1v1h-1zM569 227h1v1h-1zM580 227h1v1h-1zM246 228h1v1h-1zM252 228h3v1h-3zM328 228h3v1h-3zM339 228h2v1h-2zM347 228h3v1h-3zM364 228h1v1h-1zM369 228h2v1h-2zM387 228h5v1h-5zM405 228h1v1h-1zM412 228h2v1h-2zM570 228h1v1h-1zM246 229h1v1h-1zM330 229h2v1h-2zM335 229h2v1h-2zM338 229h1v1h-1zM365 229h5v1h-5zM385 229h3v1h-3zM391 229h2v1h-2zM405 229h2v1h-2zM411 229h2v1h-2zM570 229h1v1h-1zM580 229h1v1h-1zM332 230h7v1h-7zM350 230h1v1h-1zM392 230h1v1h-1zM406 230h2v1h-2zM410 230h2v1h-2zM571 230h1v1h-1zM333 231h1v1h-1zM337 231h1v1h-1zM350 231h1v1h-1zM407 231h4v1h-4zM572 231h1v1h-1zM351 232h1v1h-1zM573 232h1v1h-1zM581 232h1v1h-1zM351 233h2v1h-2zM573 233h1v1h-1zM352 234h1v1h-1zM574 234h1v1h-1zM575 235h3v1h-3zM576 236h1v1h-1zM582 236h1v1h-1zM583 237h1v1h-1zM140 238h1v1h-1zM583 238h1v1h-1zM584 239h1v1h-1zM585 240h1v1h-1zM586 241h1v1h-1zM587 242h2v1h-2zM603 242h1v1h-1zM604 243h1v1h-1zM604 244h1v1h-1zM605 246h1v1h-1zM621 247h1v1h-1zM606 248h1v1h-1zM612 248h1v1h-1zM140 250h1v1h-1zM607 250h2v1h-2zM608 251h7v1h-7zM618 252h4v1h-4zM620 253h1v1h-1zM612 255h1v1h-1zM139 301h1v1h-1z"/>
<path class="top" fill="#000000" d="M52 129h573v1h-573zM52 234h573v1h-573zM52 339h573v1h-573z"/>
</g>
<g id="labels">
<text x="338" y="19" text-anchor="middle" font-size="12">GOES 0.1-0.8nm (red), LYRA Al (blue) &amp; Zr (grey) proxy</text>
<text x="338" y="470" text-anchor="middle" font-size="10">Time / h UTC, 02 Jan 2024</text>
<text x="643" y="494" text-anchor="end" font-size="10">ROB/SIDC, Brussels, Belgium</text>
<text x="26" y="234" text-anchor="middle" font-size="8" transform="rotate(-90 26 234)">GOES Irradiance / (W m⁻²)</text>
<text x="52" y="457" text-anchor="middle" font-size="10">0</text>
<text x="171.167" y="457" text-anchor="middle" font-size="10">5</text>
<text x="290.333" y="457" text-anchor="middle" font-size="10">10</text>
<text x="409.5" y="457" text-anchor="middle" font-size="10">15</text>
<text x="528.667" y="457" text-anchor="middle" font-size="10">20</text>
<text x="49" y="29" text-anchor="end" font-size="8">10⁻⁴</text>
<text x="49" y="132" text-anchor="end" font-size="8">10⁻⁵</text>
<text x="49" y="237" text-anchor="end" font-size="8">10⁻⁶</text>
<text x="49" y="342" text-anchor="end" font-size="8">10⁻⁷</text>
<text x="49" y="444" text-anchor="end" font-size="8">10⁻⁸</text>
<text x="631" y="79" text-anchor="start" font-size="10">M</text>
<text x="631" y="184" text-anchor="start" font-size="10">C</text>
<text x="631" y="289" text-anchor="start" font-size="10">B</text>
<text x="631" y="394" text-anchor="start" font-size="10">A</text>
</g>
</svg>
</body>
</html>
